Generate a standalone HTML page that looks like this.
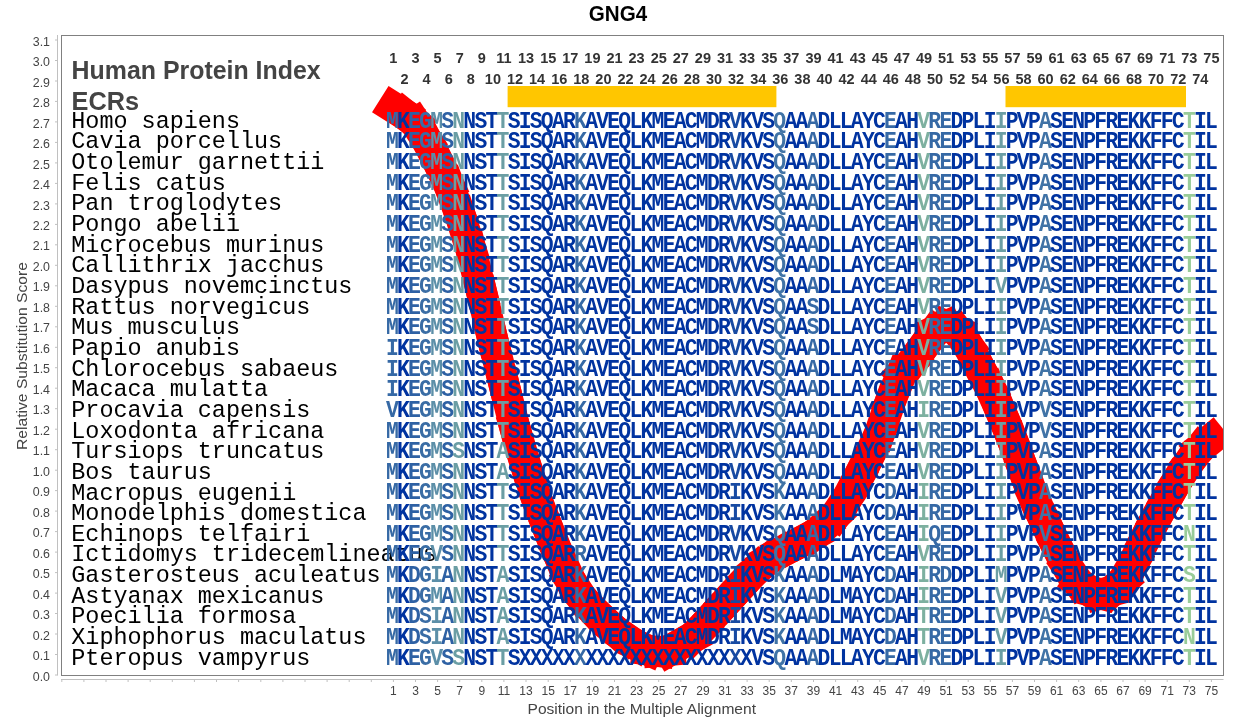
<!DOCTYPE html><html><head><meta charset="utf-8"><style>html,body{margin:0;padding:0;background:#fff;overflow:hidden}svg{display:block;will-change:transform}</style></head><body><svg width="1235" height="725" viewBox="0 0 1235 725"><rect width="1235" height="725" fill="#fff"/><text x="588.8" y="20.8" font-family="Liberation Sans, sans-serif" font-weight="bold" font-size="21.8" textLength="58.4" lengthAdjust="spacingAndGlyphs" fill="#000">GNG4</text><line x1="57.5" y1="35" x2="57.5" y2="675.5" stroke="#c0c0c0" stroke-width="1"/><line x1="55" y1="675.0" x2="57.5" y2="675.0" stroke="#c0c0c0" stroke-width="1"/><line x1="55" y1="654.5" x2="57.5" y2="654.5" stroke="#c0c0c0" stroke-width="1"/><line x1="55" y1="634.0" x2="57.5" y2="634.0" stroke="#c0c0c0" stroke-width="1"/><line x1="55" y1="613.5" x2="57.5" y2="613.5" stroke="#c0c0c0" stroke-width="1"/><line x1="55" y1="593.1" x2="57.5" y2="593.1" stroke="#c0c0c0" stroke-width="1"/><line x1="55" y1="572.6" x2="57.5" y2="572.6" stroke="#c0c0c0" stroke-width="1"/><line x1="55" y1="552.1" x2="57.5" y2="552.1" stroke="#c0c0c0" stroke-width="1"/><line x1="55" y1="531.6" x2="57.5" y2="531.6" stroke="#c0c0c0" stroke-width="1"/><line x1="55" y1="511.1" x2="57.5" y2="511.1" stroke="#c0c0c0" stroke-width="1"/><line x1="55" y1="490.6" x2="57.5" y2="490.6" stroke="#c0c0c0" stroke-width="1"/><line x1="55" y1="470.2" x2="57.5" y2="470.2" stroke="#c0c0c0" stroke-width="1"/><line x1="55" y1="449.7" x2="57.5" y2="449.7" stroke="#c0c0c0" stroke-width="1"/><line x1="55" y1="429.2" x2="57.5" y2="429.2" stroke="#c0c0c0" stroke-width="1"/><line x1="55" y1="408.7" x2="57.5" y2="408.7" stroke="#c0c0c0" stroke-width="1"/><line x1="55" y1="388.2" x2="57.5" y2="388.2" stroke="#c0c0c0" stroke-width="1"/><line x1="55" y1="367.7" x2="57.5" y2="367.7" stroke="#c0c0c0" stroke-width="1"/><line x1="55" y1="347.3" x2="57.5" y2="347.3" stroke="#c0c0c0" stroke-width="1"/><line x1="55" y1="326.8" x2="57.5" y2="326.8" stroke="#c0c0c0" stroke-width="1"/><line x1="55" y1="306.3" x2="57.5" y2="306.3" stroke="#c0c0c0" stroke-width="1"/><line x1="55" y1="285.8" x2="57.5" y2="285.8" stroke="#c0c0c0" stroke-width="1"/><line x1="55" y1="265.3" x2="57.5" y2="265.3" stroke="#c0c0c0" stroke-width="1"/><line x1="55" y1="244.8" x2="57.5" y2="244.8" stroke="#c0c0c0" stroke-width="1"/><line x1="55" y1="224.4" x2="57.5" y2="224.4" stroke="#c0c0c0" stroke-width="1"/><line x1="55" y1="203.9" x2="57.5" y2="203.9" stroke="#c0c0c0" stroke-width="1"/><line x1="55" y1="183.4" x2="57.5" y2="183.4" stroke="#c0c0c0" stroke-width="1"/><line x1="55" y1="162.9" x2="57.5" y2="162.9" stroke="#c0c0c0" stroke-width="1"/><line x1="55" y1="142.4" x2="57.5" y2="142.4" stroke="#c0c0c0" stroke-width="1"/><line x1="55" y1="121.9" x2="57.5" y2="121.9" stroke="#c0c0c0" stroke-width="1"/><line x1="55" y1="101.4" x2="57.5" y2="101.4" stroke="#c0c0c0" stroke-width="1"/><line x1="55" y1="81.0" x2="57.5" y2="81.0" stroke="#c0c0c0" stroke-width="1"/><line x1="55" y1="60.5" x2="57.5" y2="60.5" stroke="#c0c0c0" stroke-width="1"/><line x1="55" y1="40.0" x2="57.5" y2="40.0" stroke="#c0c0c0" stroke-width="1"/><g font-family="Liberation Sans, sans-serif" font-size="12.4" fill="#444" text-anchor="end"><text x="50" y="680.6">0.0</text><text x="50" y="660.1">0.1</text><text x="50" y="639.6">0.2</text><text x="50" y="619.1">0.3</text><text x="50" y="598.7">0.4</text><text x="50" y="578.2">0.5</text><text x="50" y="557.7">0.6</text><text x="50" y="537.2">0.7</text><text x="50" y="516.7">0.8</text><text x="50" y="496.2">0.9</text><text x="50" y="475.8">1.0</text><text x="50" y="455.3">1.1</text><text x="50" y="434.8">1.2</text><text x="50" y="414.3">1.3</text><text x="50" y="393.8">1.4</text><text x="50" y="373.3">1.5</text><text x="50" y="352.9">1.6</text><text x="50" y="332.4">1.7</text><text x="50" y="311.9">1.8</text><text x="50" y="291.4">1.9</text><text x="50" y="270.9">2.0</text><text x="50" y="250.4">2.1</text><text x="50" y="230.0">2.2</text><text x="50" y="209.5">2.3</text><text x="50" y="189.0">2.4</text><text x="50" y="168.5">2.5</text><text x="50" y="148.0">2.6</text><text x="50" y="127.5">2.7</text><text x="50" y="107.0">2.8</text><text x="50" y="86.6">2.9</text><text x="50" y="66.1">3.0</text><text x="50" y="45.6">3.1</text></g><text transform="translate(26.7,450) rotate(-90)" font-family="Liberation Sans, sans-serif" font-size="15.5" textLength="188" lengthAdjust="spacingAndGlyphs" fill="#444">Relative Substitution Score</text><line x1="61" y1="679.5" x2="1223.5" y2="679.5" stroke="#c0c0c0" stroke-width="1"/><line x1="61.8" y1="679.5" x2="61.8" y2="682" stroke="#c0c0c0" stroke-width="1"/><line x1="83.9" y1="679.5" x2="83.9" y2="682" stroke="#c0c0c0" stroke-width="1"/><line x1="106.0" y1="679.5" x2="106.0" y2="682" stroke="#c0c0c0" stroke-width="1"/><line x1="128.1" y1="679.5" x2="128.1" y2="682" stroke="#c0c0c0" stroke-width="1"/><line x1="150.2" y1="679.5" x2="150.2" y2="682" stroke="#c0c0c0" stroke-width="1"/><line x1="172.3" y1="679.5" x2="172.3" y2="682" stroke="#c0c0c0" stroke-width="1"/><line x1="194.4" y1="679.5" x2="194.4" y2="682" stroke="#c0c0c0" stroke-width="1"/><line x1="216.5" y1="679.5" x2="216.5" y2="682" stroke="#c0c0c0" stroke-width="1"/><line x1="238.6" y1="679.5" x2="238.6" y2="682" stroke="#c0c0c0" stroke-width="1"/><line x1="260.8" y1="679.5" x2="260.8" y2="682" stroke="#c0c0c0" stroke-width="1"/><line x1="282.9" y1="679.5" x2="282.9" y2="682" stroke="#c0c0c0" stroke-width="1"/><line x1="305.0" y1="679.5" x2="305.0" y2="682" stroke="#c0c0c0" stroke-width="1"/><line x1="327.1" y1="679.5" x2="327.1" y2="682" stroke="#c0c0c0" stroke-width="1"/><line x1="349.2" y1="679.5" x2="349.2" y2="682" stroke="#c0c0c0" stroke-width="1"/><line x1="371.3" y1="679.5" x2="371.3" y2="682" stroke="#c0c0c0" stroke-width="1"/><line x1="393.4" y1="679.5" x2="393.4" y2="682" stroke="#c0c0c0" stroke-width="1"/><line x1="415.5" y1="679.5" x2="415.5" y2="682" stroke="#c0c0c0" stroke-width="1"/><line x1="437.6" y1="679.5" x2="437.6" y2="682" stroke="#c0c0c0" stroke-width="1"/><line x1="459.7" y1="679.5" x2="459.7" y2="682" stroke="#c0c0c0" stroke-width="1"/><line x1="481.8" y1="679.5" x2="481.8" y2="682" stroke="#c0c0c0" stroke-width="1"/><line x1="503.9" y1="679.5" x2="503.9" y2="682" stroke="#c0c0c0" stroke-width="1"/><line x1="526.0" y1="679.5" x2="526.0" y2="682" stroke="#c0c0c0" stroke-width="1"/><line x1="548.2" y1="679.5" x2="548.2" y2="682" stroke="#c0c0c0" stroke-width="1"/><line x1="570.3" y1="679.5" x2="570.3" y2="682" stroke="#c0c0c0" stroke-width="1"/><line x1="592.4" y1="679.5" x2="592.4" y2="682" stroke="#c0c0c0" stroke-width="1"/><line x1="614.5" y1="679.5" x2="614.5" y2="682" stroke="#c0c0c0" stroke-width="1"/><line x1="636.6" y1="679.5" x2="636.6" y2="682" stroke="#c0c0c0" stroke-width="1"/><line x1="658.7" y1="679.5" x2="658.7" y2="682" stroke="#c0c0c0" stroke-width="1"/><line x1="680.8" y1="679.5" x2="680.8" y2="682" stroke="#c0c0c0" stroke-width="1"/><line x1="702.9" y1="679.5" x2="702.9" y2="682" stroke="#c0c0c0" stroke-width="1"/><line x1="725.0" y1="679.5" x2="725.0" y2="682" stroke="#c0c0c0" stroke-width="1"/><line x1="747.1" y1="679.5" x2="747.1" y2="682" stroke="#c0c0c0" stroke-width="1"/><line x1="769.2" y1="679.5" x2="769.2" y2="682" stroke="#c0c0c0" stroke-width="1"/><line x1="791.3" y1="679.5" x2="791.3" y2="682" stroke="#c0c0c0" stroke-width="1"/><line x1="813.5" y1="679.5" x2="813.5" y2="682" stroke="#c0c0c0" stroke-width="1"/><line x1="835.6" y1="679.5" x2="835.6" y2="682" stroke="#c0c0c0" stroke-width="1"/><line x1="857.7" y1="679.5" x2="857.7" y2="682" stroke="#c0c0c0" stroke-width="1"/><line x1="879.8" y1="679.5" x2="879.8" y2="682" stroke="#c0c0c0" stroke-width="1"/><line x1="901.9" y1="679.5" x2="901.9" y2="682" stroke="#c0c0c0" stroke-width="1"/><line x1="924.0" y1="679.5" x2="924.0" y2="682" stroke="#c0c0c0" stroke-width="1"/><line x1="946.1" y1="679.5" x2="946.1" y2="682" stroke="#c0c0c0" stroke-width="1"/><line x1="968.2" y1="679.5" x2="968.2" y2="682" stroke="#c0c0c0" stroke-width="1"/><line x1="990.3" y1="679.5" x2="990.3" y2="682" stroke="#c0c0c0" stroke-width="1"/><line x1="1012.4" y1="679.5" x2="1012.4" y2="682" stroke="#c0c0c0" stroke-width="1"/><line x1="1034.5" y1="679.5" x2="1034.5" y2="682" stroke="#c0c0c0" stroke-width="1"/><line x1="1056.6" y1="679.5" x2="1056.6" y2="682" stroke="#c0c0c0" stroke-width="1"/><line x1="1078.7" y1="679.5" x2="1078.7" y2="682" stroke="#c0c0c0" stroke-width="1"/><line x1="1100.9" y1="679.5" x2="1100.9" y2="682" stroke="#c0c0c0" stroke-width="1"/><line x1="1123.0" y1="679.5" x2="1123.0" y2="682" stroke="#c0c0c0" stroke-width="1"/><line x1="1145.1" y1="679.5" x2="1145.1" y2="682" stroke="#c0c0c0" stroke-width="1"/><line x1="1167.2" y1="679.5" x2="1167.2" y2="682" stroke="#c0c0c0" stroke-width="1"/><line x1="1189.3" y1="679.5" x2="1189.3" y2="682" stroke="#c0c0c0" stroke-width="1"/><line x1="1211.4" y1="679.5" x2="1211.4" y2="682" stroke="#c0c0c0" stroke-width="1"/><g font-family="Liberation Sans, sans-serif" font-size="12" fill="#444" text-anchor="middle"><text x="393.4" y="694.7">1</text><text x="415.5" y="694.7">3</text><text x="437.6" y="694.7">5</text><text x="459.7" y="694.7">7</text><text x="481.8" y="694.7">9</text><text x="503.9" y="694.7">11</text><text x="526.0" y="694.7">13</text><text x="548.2" y="694.7">15</text><text x="570.3" y="694.7">17</text><text x="592.4" y="694.7">19</text><text x="614.5" y="694.7">21</text><text x="636.6" y="694.7">23</text><text x="658.7" y="694.7">25</text><text x="680.8" y="694.7">27</text><text x="702.9" y="694.7">29</text><text x="725.0" y="694.7">31</text><text x="747.1" y="694.7">33</text><text x="769.2" y="694.7">35</text><text x="791.3" y="694.7">37</text><text x="813.5" y="694.7">39</text><text x="835.6" y="694.7">41</text><text x="857.7" y="694.7">43</text><text x="879.8" y="694.7">45</text><text x="901.9" y="694.7">47</text><text x="924.0" y="694.7">49</text><text x="946.1" y="694.7">51</text><text x="968.2" y="694.7">53</text><text x="990.3" y="694.7">55</text><text x="1012.4" y="694.7">57</text><text x="1034.5" y="694.7">59</text><text x="1056.6" y="694.7">61</text><text x="1078.7" y="694.7">63</text><text x="1100.9" y="694.7">65</text><text x="1123.0" y="694.7">67</text><text x="1145.1" y="694.7">69</text><text x="1167.2" y="694.7">71</text><text x="1189.3" y="694.7">73</text><text x="1211.4" y="694.7">75</text></g><text x="527.5" y="714" font-family="Liberation Sans, sans-serif" font-size="15.2" textLength="228.5" lengthAdjust="spacingAndGlyphs" fill="#444">Position in the Multiple Alignment</text><rect x="61.5" y="35.5" width="1162" height="640" fill="none" stroke="#808080" stroke-width="1"/><text x="71.6" y="78.8" font-family="Liberation Sans, sans-serif" font-weight="bold" font-size="25.3" textLength="249" lengthAdjust="spacingAndGlyphs" fill="#444">Human Protein Index</text><text x="71.6" y="109.7" font-family="Liberation Sans, sans-serif" font-weight="bold" font-size="25.3" textLength="67.5" lengthAdjust="spacingAndGlyphs" fill="#444">ECRs</text><g font-family="Liberation Sans, sans-serif" font-weight="bold" font-size="14.5" fill="#333" text-anchor="middle"><text x="393.4" y="62.6">1</text><text x="404.5" y="83.9">2</text><text x="415.5" y="62.6">3</text><text x="426.6" y="83.9">4</text><text x="437.6" y="62.6">5</text><text x="448.7" y="83.9">6</text><text x="459.7" y="62.6">7</text><text x="470.8" y="83.9">8</text><text x="481.8" y="62.6">9</text><text x="492.9" y="83.9">10</text><text x="503.9" y="62.6">11</text><text x="515.0" y="83.9">12</text><text x="526.0" y="62.6">13</text><text x="537.1" y="83.9">14</text><text x="548.2" y="62.6">15</text><text x="559.2" y="83.9">16</text><text x="570.3" y="62.6">17</text><text x="581.3" y="83.9">18</text><text x="592.4" y="62.6">19</text><text x="603.4" y="83.9">20</text><text x="614.5" y="62.6">21</text><text x="625.5" y="83.9">22</text><text x="636.6" y="62.6">23</text><text x="647.6" y="83.9">24</text><text x="658.7" y="62.6">25</text><text x="669.8" y="83.9">26</text><text x="680.8" y="62.6">27</text><text x="691.9" y="83.9">28</text><text x="702.9" y="62.6">29</text><text x="714.0" y="83.9">30</text><text x="725.0" y="62.6">31</text><text x="736.1" y="83.9">32</text><text x="747.1" y="62.6">33</text><text x="758.2" y="83.9">34</text><text x="769.2" y="62.6">35</text><text x="780.3" y="83.9">36</text><text x="791.3" y="62.6">37</text><text x="802.4" y="83.9">38</text><text x="813.5" y="62.6">39</text><text x="824.5" y="83.9">40</text><text x="835.6" y="62.6">41</text><text x="846.6" y="83.9">42</text><text x="857.7" y="62.6">43</text><text x="868.7" y="83.9">44</text><text x="879.8" y="62.6">45</text><text x="890.8" y="83.9">46</text><text x="901.9" y="62.6">47</text><text x="912.9" y="83.9">48</text><text x="924.0" y="62.6">49</text><text x="935.0" y="83.9">50</text><text x="946.1" y="62.6">51</text><text x="957.2" y="83.9">52</text><text x="968.2" y="62.6">53</text><text x="979.3" y="83.9">54</text><text x="990.3" y="62.6">55</text><text x="1001.4" y="83.9">56</text><text x="1012.4" y="62.6">57</text><text x="1023.5" y="83.9">58</text><text x="1034.5" y="62.6">59</text><text x="1045.6" y="83.9">60</text><text x="1056.6" y="62.6">61</text><text x="1067.7" y="83.9">62</text><text x="1078.7" y="62.6">63</text><text x="1089.8" y="83.9">64</text><text x="1100.9" y="62.6">65</text><text x="1111.9" y="83.9">66</text><text x="1123.0" y="62.6">67</text><text x="1134.0" y="83.9">68</text><text x="1145.1" y="62.6">69</text><text x="1156.1" y="83.9">70</text><text x="1167.2" y="62.6">71</text><text x="1178.2" y="83.9">72</text><text x="1189.3" y="62.6">73</text><text x="1200.3" y="83.9">74</text><text x="1211.4" y="62.6">75</text></g><rect x="507.6" y="86" width="268.8" height="21.2" fill="#ffc600"/><rect x="1005.5" y="86" width="180.5" height="21.2" fill="#ffc600"/><defs><clipPath id="pc"><rect x="62" y="36" width="1161" height="639"/></clipPath></defs><g clip-path="url(#pc)" stroke="#ff0000" stroke-width="31" stroke-linecap="square"><line x1="393.4" y1="107.3" x2="404.5" y2="114.3"/><line x1="404.5" y1="114.3" x2="415.5" y2="123.0"/><line x1="415.5" y1="123.0" x2="426.6" y2="140.0"/><line x1="426.6" y1="140.0" x2="437.6" y2="161.0"/><line x1="437.6" y1="161.0" x2="448.7" y2="184.4"/><line x1="448.7" y1="184.4" x2="459.7" y2="213.9"/><line x1="459.7" y1="213.9" x2="470.8" y2="249.0"/><line x1="470.8" y1="249.0" x2="481.8" y2="293.0"/><line x1="481.8" y1="293.0" x2="492.9" y2="340.0"/><line x1="492.9" y1="340.0" x2="503.9" y2="384.0"/><line x1="503.9" y1="384.0" x2="515.0" y2="428.0"/><line x1="515.0" y1="428.0" x2="526.0" y2="466.0"/><line x1="526.0" y1="466.0" x2="537.1" y2="500.0"/><line x1="537.1" y1="500.0" x2="548.2" y2="529.0"/><line x1="548.2" y1="529.0" x2="559.2" y2="556.0"/><line x1="559.2" y1="556.0" x2="570.3" y2="580.0"/><line x1="570.3" y1="580.0" x2="581.3" y2="597.0"/><line x1="581.3" y1="597.0" x2="592.4" y2="609.5"/><line x1="592.4" y1="609.5" x2="603.4" y2="620.0"/><line x1="603.4" y1="620.0" x2="614.5" y2="630.0"/><line x1="614.5" y1="630.0" x2="625.5" y2="638.0"/><line x1="625.5" y1="638.0" x2="636.6" y2="645.0"/><line x1="636.6" y1="645.0" x2="647.6" y2="650.0"/><line x1="647.6" y1="650.0" x2="658.7" y2="651.5"/><line x1="658.7" y1="651.5" x2="669.8" y2="650.5"/><line x1="669.8" y1="650.5" x2="680.8" y2="644.0"/><line x1="680.8" y1="644.0" x2="691.9" y2="638.0"/><line x1="691.9" y1="638.0" x2="702.9" y2="627.0"/><line x1="702.9" y1="627.0" x2="714.0" y2="615.0"/><line x1="714.0" y1="615.0" x2="725.0" y2="603.0"/><line x1="725.0" y1="603.0" x2="736.1" y2="591.0"/><line x1="736.1" y1="591.0" x2="747.1" y2="579.0"/><line x1="747.1" y1="579.0" x2="758.2" y2="568.0"/><line x1="758.2" y1="568.0" x2="769.2" y2="559.0"/><line x1="769.2" y1="559.0" x2="780.3" y2="552.5"/><line x1="780.3" y1="552.5" x2="791.3" y2="547.0"/><line x1="791.3" y1="547.0" x2="802.4" y2="541.0"/><line x1="802.4" y1="541.0" x2="813.5" y2="535.0"/><line x1="813.5" y1="535.0" x2="824.5" y2="526.0"/><line x1="824.5" y1="526.0" x2="835.6" y2="515.3"/><line x1="835.6" y1="515.3" x2="846.6" y2="499.1"/><line x1="846.6" y1="499.1" x2="857.7" y2="478.6"/><line x1="857.7" y1="478.6" x2="868.7" y2="456.9"/><line x1="868.7" y1="456.9" x2="879.8" y2="432.8"/><line x1="879.8" y1="432.8" x2="890.8" y2="400.4"/><line x1="890.8" y1="400.4" x2="901.9" y2="373.0"/><line x1="901.9" y1="373.0" x2="912.9" y2="361.0"/><line x1="912.9" y1="361.0" x2="924.0" y2="346.0"/><line x1="924.0" y1="346.0" x2="935.0" y2="331.0"/><line x1="935.0" y1="331.0" x2="946.1" y2="326.0"/><line x1="946.1" y1="326.0" x2="957.2" y2="331.0"/><line x1="957.2" y1="331.0" x2="968.2" y2="346.0"/><line x1="968.2" y1="346.0" x2="979.3" y2="367.0"/><line x1="979.3" y1="367.0" x2="990.3" y2="388.0"/><line x1="990.3" y1="388.0" x2="1001.4" y2="413.0"/><line x1="1001.4" y1="413.0" x2="1012.4" y2="440.0"/><line x1="1012.4" y1="440.0" x2="1023.5" y2="470.0"/><line x1="1023.5" y1="470.0" x2="1034.5" y2="499.0"/><line x1="1034.5" y1="499.0" x2="1045.6" y2="523.0"/><line x1="1045.6" y1="523.0" x2="1056.6" y2="546.0"/><line x1="1056.6" y1="546.0" x2="1067.7" y2="567.0"/><line x1="1067.7" y1="567.0" x2="1078.7" y2="583.0"/><line x1="1078.7" y1="583.0" x2="1089.8" y2="591.0"/><line x1="1089.8" y1="591.0" x2="1100.9" y2="594.0"/><line x1="1100.9" y1="594.0" x2="1111.9" y2="591.0"/><line x1="1111.9" y1="591.0" x2="1123.0" y2="581.0"/><line x1="1123.0" y1="581.0" x2="1134.0" y2="562.0"/><line x1="1134.0" y1="562.0" x2="1145.1" y2="539.0"/><line x1="1145.1" y1="539.0" x2="1156.1" y2="518.0"/><line x1="1156.1" y1="518.0" x2="1167.2" y2="498.0"/><line x1="1167.2" y1="498.0" x2="1178.2" y2="479.0"/><line x1="1178.2" y1="479.0" x2="1189.3" y2="462.0"/><line x1="1189.3" y1="462.0" x2="1200.3" y2="448.0"/><line x1="1200.3" y1="448.0" x2="1211.4" y2="439.0"/></g><g font-family="Liberation Mono, monospace" font-size="23.43" fill="#000" xml:space="preserve"><text x="71.3" y="127.80">Homo sapiens</text><text x="71.3" y="148.45">Cavia porcellus</text><text x="71.3" y="169.10">Otolemur garnettii</text><text x="71.3" y="189.75">Felis catus</text><text x="71.3" y="210.40">Pan troglodytes</text><text x="71.3" y="231.05">Pongo abelii</text><text x="71.3" y="251.70">Microcebus murinus</text><text x="71.3" y="272.35">Callithrix jacchus</text><text x="71.3" y="293.00">Dasypus novemcinctus</text><text x="71.3" y="313.65">Rattus norvegicus</text><text x="71.3" y="334.30">Mus musculus</text><text x="71.3" y="354.95">Papio anubis</text><text x="71.3" y="375.60">Chlorocebus sabaeus</text><text x="71.3" y="396.25">Macaca mulatta</text><text x="71.3" y="416.90">Procavia capensis</text><text x="71.3" y="437.55">Loxodonta africana</text><text x="71.3" y="458.20">Tursiops truncatus</text><text x="71.3" y="478.85">Bos taurus</text><text x="71.3" y="499.50">Macropus eugenii</text><text x="71.3" y="520.15">Monodelphis domestica</text><text x="71.3" y="540.80">Echinops telfairi</text><text x="71.3" y="561.45">Ictidomys tridecemlineatus</text><text x="71.3" y="582.10">Gasterosteus aculeatus</text><text x="71.3" y="602.75">Astyanax mexicanus</text><text x="71.3" y="623.40">Poecilia formosa</text><text x="71.3" y="644.05">Xiphophorus maculatus</text><text x="71.3" y="664.70">Pteropus vampyrus</text></g><g transform="scale(0.88,1)" font-family="Liberation Mono, monospace" font-weight="bold" font-size="24.3" text-anchor="middle"><text y="127.80"><tspan x="445.80" fill="#3669a5">M</tspan><tspan x="458.38" fill="#0033a0">K</tspan><tspan x="470.95" fill="#2e61a4">E</tspan><tspan x="483.53" fill="#3a6da5">G</tspan><tspan x="496.11" fill="#5c8fa8">M</tspan><tspan x="508.69" fill="#2e61a4">S</tspan><tspan x="521.27" fill="#6b9ea4">N</tspan><tspan x="533.85" fill="#0033a0">N</tspan><tspan x="546.43" fill="#0033a0">S</tspan><tspan x="559.01" fill="#0033a0">T</tspan><tspan x="571.59" fill="#6b9ea4">T</tspan><tspan x="584.17" fill="#0033a0">S</tspan><tspan x="596.75" fill="#0033a0">I</tspan><tspan x="609.33" fill="#0033a0">S</tspan><tspan x="621.91" fill="#0033a0">Q</tspan><tspan x="634.49" fill="#0033a0">A</tspan><tspan x="647.07" fill="#0033a0">R</tspan><tspan x="659.65" fill="#3669a5">K</tspan><tspan x="672.23" fill="#0033a0">A</tspan><tspan x="684.81" fill="#0033a0">V</tspan><tspan x="697.39" fill="#0033a0">E</tspan><tspan x="709.97" fill="#0033a0">Q</tspan><tspan x="722.55" fill="#0033a0">L</tspan><tspan x="735.13" fill="#0033a0">K</tspan><tspan x="747.70" fill="#0033a0">M</tspan><tspan x="760.28" fill="#0033a0">E</tspan><tspan x="772.86" fill="#0033a0">A</tspan><tspan x="785.44" fill="#0033a0">C</tspan><tspan x="798.02" fill="#0033a0">M</tspan><tspan x="810.60" fill="#0033a0">D</tspan><tspan x="823.18" fill="#0033a0">R</tspan><tspan x="835.76" fill="#174aa2">V</tspan><tspan x="848.34" fill="#0033a0">K</tspan><tspan x="860.92" fill="#0033a0">V</tspan><tspan x="873.50" fill="#0033a0">S</tspan><tspan x="886.08" fill="#4073a6">Q</tspan><tspan x="898.66" fill="#0033a0">A</tspan><tspan x="911.24" fill="#0033a0">A</tspan><tspan x="923.82" fill="#3669a5">A</tspan><tspan x="936.40" fill="#0033a0">D</tspan><tspan x="948.98" fill="#0033a0">L</tspan><tspan x="961.56" fill="#0033a0">L</tspan><tspan x="974.14" fill="#0033a0">A</tspan><tspan x="986.72" fill="#0033a0">Y</tspan><tspan x="999.30" fill="#0033a0">C</tspan><tspan x="1011.88" fill="#3669a5">E</tspan><tspan x="1024.45" fill="#0033a0">A</tspan><tspan x="1037.03" fill="#0033a0">H</tspan><tspan x="1049.61" fill="#7db0a0">V</tspan><tspan x="1062.19" fill="#3669a5">R</tspan><tspan x="1074.77" fill="#3669a5">E</tspan><tspan x="1087.35" fill="#0033a0">D</tspan><tspan x="1099.93" fill="#0033a0">P</tspan><tspan x="1112.51" fill="#0033a0">L</tspan><tspan x="1125.09" fill="#0033a0">I</tspan><tspan x="1137.67" fill="#6b9ea4">I</tspan><tspan x="1150.25" fill="#0033a0">P</tspan><tspan x="1162.83" fill="#0033a0">V</tspan><tspan x="1175.41" fill="#0033a0">P</tspan><tspan x="1187.99" fill="#4073a6">A</tspan><tspan x="1200.57" fill="#0033a0">S</tspan><tspan x="1213.15" fill="#0033a0">E</tspan><tspan x="1225.73" fill="#0033a0">N</tspan><tspan x="1238.31" fill="#0033a0">P</tspan><tspan x="1250.89" fill="#0033a0">F</tspan><tspan x="1263.47" fill="#0033a0">R</tspan><tspan x="1276.05" fill="#0033a0">E</tspan><tspan x="1288.62" fill="#0033a0">K</tspan><tspan x="1301.20" fill="#0033a0">K</tspan><tspan x="1313.78" fill="#0033a0">F</tspan><tspan x="1326.36" fill="#0033a0">F</tspan><tspan x="1338.94" fill="#0033a0">C</tspan><tspan x="1351.52" fill="#99cc99">T</tspan><tspan x="1364.10" fill="#0033a0">I</tspan><tspan x="1376.68" fill="#0033a0">L</tspan></text><text y="148.45"><tspan x="445.80" fill="#3669a5">M</tspan><tspan x="458.38" fill="#0033a0">K</tspan><tspan x="470.95" fill="#2e61a4">E</tspan><tspan x="483.53" fill="#3a6da5">G</tspan><tspan x="496.11" fill="#5c8fa8">M</tspan><tspan x="508.69" fill="#2e61a4">S</tspan><tspan x="521.27" fill="#6b9ea4">N</tspan><tspan x="533.85" fill="#0033a0">N</tspan><tspan x="546.43" fill="#0033a0">S</tspan><tspan x="559.01" fill="#0033a0">T</tspan><tspan x="571.59" fill="#6b9ea4">T</tspan><tspan x="584.17" fill="#0033a0">S</tspan><tspan x="596.75" fill="#0033a0">I</tspan><tspan x="609.33" fill="#0033a0">S</tspan><tspan x="621.91" fill="#0033a0">Q</tspan><tspan x="634.49" fill="#0033a0">A</tspan><tspan x="647.07" fill="#0033a0">R</tspan><tspan x="659.65" fill="#3669a5">K</tspan><tspan x="672.23" fill="#0033a0">A</tspan><tspan x="684.81" fill="#0033a0">V</tspan><tspan x="697.39" fill="#0033a0">E</tspan><tspan x="709.97" fill="#0033a0">Q</tspan><tspan x="722.55" fill="#0033a0">L</tspan><tspan x="735.13" fill="#0033a0">K</tspan><tspan x="747.70" fill="#0033a0">M</tspan><tspan x="760.28" fill="#0033a0">E</tspan><tspan x="772.86" fill="#0033a0">A</tspan><tspan x="785.44" fill="#0033a0">C</tspan><tspan x="798.02" fill="#0033a0">M</tspan><tspan x="810.60" fill="#0033a0">D</tspan><tspan x="823.18" fill="#0033a0">R</tspan><tspan x="835.76" fill="#174aa2">V</tspan><tspan x="848.34" fill="#0033a0">K</tspan><tspan x="860.92" fill="#0033a0">V</tspan><tspan x="873.50" fill="#0033a0">S</tspan><tspan x="886.08" fill="#4073a6">Q</tspan><tspan x="898.66" fill="#0033a0">A</tspan><tspan x="911.24" fill="#0033a0">A</tspan><tspan x="923.82" fill="#3669a5">A</tspan><tspan x="936.40" fill="#0033a0">D</tspan><tspan x="948.98" fill="#0033a0">L</tspan><tspan x="961.56" fill="#0033a0">L</tspan><tspan x="974.14" fill="#0033a0">A</tspan><tspan x="986.72" fill="#0033a0">Y</tspan><tspan x="999.30" fill="#0033a0">C</tspan><tspan x="1011.88" fill="#3669a5">E</tspan><tspan x="1024.45" fill="#0033a0">A</tspan><tspan x="1037.03" fill="#0033a0">H</tspan><tspan x="1049.61" fill="#7db0a0">V</tspan><tspan x="1062.19" fill="#3669a5">R</tspan><tspan x="1074.77" fill="#3669a5">E</tspan><tspan x="1087.35" fill="#0033a0">D</tspan><tspan x="1099.93" fill="#0033a0">P</tspan><tspan x="1112.51" fill="#0033a0">L</tspan><tspan x="1125.09" fill="#0033a0">I</tspan><tspan x="1137.67" fill="#6b9ea4">I</tspan><tspan x="1150.25" fill="#0033a0">P</tspan><tspan x="1162.83" fill="#0033a0">V</tspan><tspan x="1175.41" fill="#0033a0">P</tspan><tspan x="1187.99" fill="#4073a6">A</tspan><tspan x="1200.57" fill="#0033a0">S</tspan><tspan x="1213.15" fill="#0033a0">E</tspan><tspan x="1225.73" fill="#0033a0">N</tspan><tspan x="1238.31" fill="#0033a0">P</tspan><tspan x="1250.89" fill="#0033a0">F</tspan><tspan x="1263.47" fill="#0033a0">R</tspan><tspan x="1276.05" fill="#0033a0">E</tspan><tspan x="1288.62" fill="#0033a0">K</tspan><tspan x="1301.20" fill="#0033a0">K</tspan><tspan x="1313.78" fill="#0033a0">F</tspan><tspan x="1326.36" fill="#0033a0">F</tspan><tspan x="1338.94" fill="#0033a0">C</tspan><tspan x="1351.52" fill="#99cc99">T</tspan><tspan x="1364.10" fill="#0033a0">I</tspan><tspan x="1376.68" fill="#0033a0">L</tspan></text><text y="169.10"><tspan x="445.80" fill="#3669a5">M</tspan><tspan x="458.38" fill="#0033a0">K</tspan><tspan x="470.95" fill="#2e61a4">E</tspan><tspan x="483.53" fill="#3a6da5">G</tspan><tspan x="496.11" fill="#5c8fa8">M</tspan><tspan x="508.69" fill="#2e61a4">S</tspan><tspan x="521.27" fill="#6b9ea4">N</tspan><tspan x="533.85" fill="#0033a0">N</tspan><tspan x="546.43" fill="#0033a0">S</tspan><tspan x="559.01" fill="#0033a0">T</tspan><tspan x="571.59" fill="#6b9ea4">T</tspan><tspan x="584.17" fill="#0033a0">S</tspan><tspan x="596.75" fill="#0033a0">I</tspan><tspan x="609.33" fill="#0033a0">S</tspan><tspan x="621.91" fill="#0033a0">Q</tspan><tspan x="634.49" fill="#0033a0">A</tspan><tspan x="647.07" fill="#0033a0">R</tspan><tspan x="659.65" fill="#3669a5">K</tspan><tspan x="672.23" fill="#0033a0">A</tspan><tspan x="684.81" fill="#0033a0">V</tspan><tspan x="697.39" fill="#0033a0">E</tspan><tspan x="709.97" fill="#0033a0">Q</tspan><tspan x="722.55" fill="#0033a0">L</tspan><tspan x="735.13" fill="#0033a0">K</tspan><tspan x="747.70" fill="#0033a0">M</tspan><tspan x="760.28" fill="#0033a0">E</tspan><tspan x="772.86" fill="#0033a0">A</tspan><tspan x="785.44" fill="#0033a0">C</tspan><tspan x="798.02" fill="#0033a0">M</tspan><tspan x="810.60" fill="#0033a0">D</tspan><tspan x="823.18" fill="#0033a0">R</tspan><tspan x="835.76" fill="#174aa2">V</tspan><tspan x="848.34" fill="#0033a0">K</tspan><tspan x="860.92" fill="#0033a0">V</tspan><tspan x="873.50" fill="#0033a0">S</tspan><tspan x="886.08" fill="#4073a6">Q</tspan><tspan x="898.66" fill="#0033a0">A</tspan><tspan x="911.24" fill="#0033a0">A</tspan><tspan x="923.82" fill="#3669a5">A</tspan><tspan x="936.40" fill="#0033a0">D</tspan><tspan x="948.98" fill="#0033a0">L</tspan><tspan x="961.56" fill="#0033a0">L</tspan><tspan x="974.14" fill="#0033a0">A</tspan><tspan x="986.72" fill="#0033a0">Y</tspan><tspan x="999.30" fill="#0033a0">C</tspan><tspan x="1011.88" fill="#3669a5">E</tspan><tspan x="1024.45" fill="#0033a0">A</tspan><tspan x="1037.03" fill="#0033a0">H</tspan><tspan x="1049.61" fill="#7db0a0">V</tspan><tspan x="1062.19" fill="#3669a5">R</tspan><tspan x="1074.77" fill="#3669a5">E</tspan><tspan x="1087.35" fill="#0033a0">D</tspan><tspan x="1099.93" fill="#0033a0">P</tspan><tspan x="1112.51" fill="#0033a0">L</tspan><tspan x="1125.09" fill="#0033a0">I</tspan><tspan x="1137.67" fill="#6b9ea4">I</tspan><tspan x="1150.25" fill="#0033a0">P</tspan><tspan x="1162.83" fill="#0033a0">V</tspan><tspan x="1175.41" fill="#0033a0">P</tspan><tspan x="1187.99" fill="#4073a6">A</tspan><tspan x="1200.57" fill="#0033a0">S</tspan><tspan x="1213.15" fill="#0033a0">E</tspan><tspan x="1225.73" fill="#0033a0">N</tspan><tspan x="1238.31" fill="#0033a0">P</tspan><tspan x="1250.89" fill="#0033a0">F</tspan><tspan x="1263.47" fill="#0033a0">R</tspan><tspan x="1276.05" fill="#0033a0">E</tspan><tspan x="1288.62" fill="#0033a0">K</tspan><tspan x="1301.20" fill="#0033a0">K</tspan><tspan x="1313.78" fill="#0033a0">F</tspan><tspan x="1326.36" fill="#0033a0">F</tspan><tspan x="1338.94" fill="#0033a0">C</tspan><tspan x="1351.52" fill="#99cc99">T</tspan><tspan x="1364.10" fill="#0033a0">I</tspan><tspan x="1376.68" fill="#0033a0">L</tspan></text><text y="189.75"><tspan x="445.80" fill="#3669a5">M</tspan><tspan x="458.38" fill="#0033a0">K</tspan><tspan x="470.95" fill="#2e61a4">E</tspan><tspan x="483.53" fill="#3a6da5">G</tspan><tspan x="496.11" fill="#5c8fa8">M</tspan><tspan x="508.69" fill="#2e61a4">S</tspan><tspan x="521.27" fill="#6b9ea4">N</tspan><tspan x="533.85" fill="#0033a0">N</tspan><tspan x="546.43" fill="#0033a0">S</tspan><tspan x="559.01" fill="#0033a0">T</tspan><tspan x="571.59" fill="#6b9ea4">T</tspan><tspan x="584.17" fill="#0033a0">S</tspan><tspan x="596.75" fill="#0033a0">I</tspan><tspan x="609.33" fill="#0033a0">S</tspan><tspan x="621.91" fill="#0033a0">Q</tspan><tspan x="634.49" fill="#0033a0">A</tspan><tspan x="647.07" fill="#0033a0">R</tspan><tspan x="659.65" fill="#3669a5">K</tspan><tspan x="672.23" fill="#0033a0">A</tspan><tspan x="684.81" fill="#0033a0">V</tspan><tspan x="697.39" fill="#0033a0">E</tspan><tspan x="709.97" fill="#0033a0">Q</tspan><tspan x="722.55" fill="#0033a0">L</tspan><tspan x="735.13" fill="#0033a0">K</tspan><tspan x="747.70" fill="#0033a0">M</tspan><tspan x="760.28" fill="#0033a0">E</tspan><tspan x="772.86" fill="#0033a0">A</tspan><tspan x="785.44" fill="#0033a0">C</tspan><tspan x="798.02" fill="#0033a0">M</tspan><tspan x="810.60" fill="#0033a0">D</tspan><tspan x="823.18" fill="#0033a0">R</tspan><tspan x="835.76" fill="#174aa2">V</tspan><tspan x="848.34" fill="#0033a0">K</tspan><tspan x="860.92" fill="#0033a0">V</tspan><tspan x="873.50" fill="#0033a0">S</tspan><tspan x="886.08" fill="#4073a6">Q</tspan><tspan x="898.66" fill="#0033a0">A</tspan><tspan x="911.24" fill="#0033a0">A</tspan><tspan x="923.82" fill="#3669a5">A</tspan><tspan x="936.40" fill="#0033a0">D</tspan><tspan x="948.98" fill="#0033a0">L</tspan><tspan x="961.56" fill="#0033a0">L</tspan><tspan x="974.14" fill="#0033a0">A</tspan><tspan x="986.72" fill="#0033a0">Y</tspan><tspan x="999.30" fill="#0033a0">C</tspan><tspan x="1011.88" fill="#3669a5">E</tspan><tspan x="1024.45" fill="#0033a0">A</tspan><tspan x="1037.03" fill="#0033a0">H</tspan><tspan x="1049.61" fill="#7db0a0">V</tspan><tspan x="1062.19" fill="#3669a5">R</tspan><tspan x="1074.77" fill="#3669a5">E</tspan><tspan x="1087.35" fill="#0033a0">D</tspan><tspan x="1099.93" fill="#0033a0">P</tspan><tspan x="1112.51" fill="#0033a0">L</tspan><tspan x="1125.09" fill="#0033a0">I</tspan><tspan x="1137.67" fill="#6b9ea4">I</tspan><tspan x="1150.25" fill="#0033a0">P</tspan><tspan x="1162.83" fill="#0033a0">V</tspan><tspan x="1175.41" fill="#0033a0">P</tspan><tspan x="1187.99" fill="#4073a6">A</tspan><tspan x="1200.57" fill="#0033a0">S</tspan><tspan x="1213.15" fill="#0033a0">E</tspan><tspan x="1225.73" fill="#0033a0">N</tspan><tspan x="1238.31" fill="#0033a0">P</tspan><tspan x="1250.89" fill="#0033a0">F</tspan><tspan x="1263.47" fill="#0033a0">R</tspan><tspan x="1276.05" fill="#0033a0">E</tspan><tspan x="1288.62" fill="#0033a0">K</tspan><tspan x="1301.20" fill="#0033a0">K</tspan><tspan x="1313.78" fill="#0033a0">F</tspan><tspan x="1326.36" fill="#0033a0">F</tspan><tspan x="1338.94" fill="#0033a0">C</tspan><tspan x="1351.52" fill="#99cc99">T</tspan><tspan x="1364.10" fill="#0033a0">I</tspan><tspan x="1376.68" fill="#0033a0">L</tspan></text><text y="210.40"><tspan x="445.80" fill="#3669a5">M</tspan><tspan x="458.38" fill="#0033a0">K</tspan><tspan x="470.95" fill="#2e61a4">E</tspan><tspan x="483.53" fill="#3a6da5">G</tspan><tspan x="496.11" fill="#5c8fa8">M</tspan><tspan x="508.69" fill="#2e61a4">S</tspan><tspan x="521.27" fill="#6b9ea4">N</tspan><tspan x="533.85" fill="#0033a0">N</tspan><tspan x="546.43" fill="#0033a0">S</tspan><tspan x="559.01" fill="#0033a0">T</tspan><tspan x="571.59" fill="#6b9ea4">T</tspan><tspan x="584.17" fill="#0033a0">S</tspan><tspan x="596.75" fill="#0033a0">I</tspan><tspan x="609.33" fill="#0033a0">S</tspan><tspan x="621.91" fill="#0033a0">Q</tspan><tspan x="634.49" fill="#0033a0">A</tspan><tspan x="647.07" fill="#0033a0">R</tspan><tspan x="659.65" fill="#3669a5">K</tspan><tspan x="672.23" fill="#0033a0">A</tspan><tspan x="684.81" fill="#0033a0">V</tspan><tspan x="697.39" fill="#0033a0">E</tspan><tspan x="709.97" fill="#0033a0">Q</tspan><tspan x="722.55" fill="#0033a0">L</tspan><tspan x="735.13" fill="#0033a0">K</tspan><tspan x="747.70" fill="#0033a0">M</tspan><tspan x="760.28" fill="#0033a0">E</tspan><tspan x="772.86" fill="#0033a0">A</tspan><tspan x="785.44" fill="#0033a0">C</tspan><tspan x="798.02" fill="#0033a0">M</tspan><tspan x="810.60" fill="#0033a0">D</tspan><tspan x="823.18" fill="#0033a0">R</tspan><tspan x="835.76" fill="#174aa2">V</tspan><tspan x="848.34" fill="#0033a0">K</tspan><tspan x="860.92" fill="#0033a0">V</tspan><tspan x="873.50" fill="#0033a0">S</tspan><tspan x="886.08" fill="#4073a6">Q</tspan><tspan x="898.66" fill="#0033a0">A</tspan><tspan x="911.24" fill="#0033a0">A</tspan><tspan x="923.82" fill="#3669a5">A</tspan><tspan x="936.40" fill="#0033a0">D</tspan><tspan x="948.98" fill="#0033a0">L</tspan><tspan x="961.56" fill="#0033a0">L</tspan><tspan x="974.14" fill="#0033a0">A</tspan><tspan x="986.72" fill="#0033a0">Y</tspan><tspan x="999.30" fill="#0033a0">C</tspan><tspan x="1011.88" fill="#3669a5">E</tspan><tspan x="1024.45" fill="#0033a0">A</tspan><tspan x="1037.03" fill="#0033a0">H</tspan><tspan x="1049.61" fill="#7db0a0">V</tspan><tspan x="1062.19" fill="#3669a5">R</tspan><tspan x="1074.77" fill="#3669a5">E</tspan><tspan x="1087.35" fill="#0033a0">D</tspan><tspan x="1099.93" fill="#0033a0">P</tspan><tspan x="1112.51" fill="#0033a0">L</tspan><tspan x="1125.09" fill="#0033a0">I</tspan><tspan x="1137.67" fill="#6b9ea4">I</tspan><tspan x="1150.25" fill="#0033a0">P</tspan><tspan x="1162.83" fill="#0033a0">V</tspan><tspan x="1175.41" fill="#0033a0">P</tspan><tspan x="1187.99" fill="#4073a6">A</tspan><tspan x="1200.57" fill="#0033a0">S</tspan><tspan x="1213.15" fill="#0033a0">E</tspan><tspan x="1225.73" fill="#0033a0">N</tspan><tspan x="1238.31" fill="#0033a0">P</tspan><tspan x="1250.89" fill="#0033a0">F</tspan><tspan x="1263.47" fill="#0033a0">R</tspan><tspan x="1276.05" fill="#0033a0">E</tspan><tspan x="1288.62" fill="#0033a0">K</tspan><tspan x="1301.20" fill="#0033a0">K</tspan><tspan x="1313.78" fill="#0033a0">F</tspan><tspan x="1326.36" fill="#0033a0">F</tspan><tspan x="1338.94" fill="#0033a0">C</tspan><tspan x="1351.52" fill="#99cc99">T</tspan><tspan x="1364.10" fill="#0033a0">I</tspan><tspan x="1376.68" fill="#0033a0">L</tspan></text><text y="231.05"><tspan x="445.80" fill="#3669a5">M</tspan><tspan x="458.38" fill="#0033a0">K</tspan><tspan x="470.95" fill="#2e61a4">E</tspan><tspan x="483.53" fill="#3a6da5">G</tspan><tspan x="496.11" fill="#5c8fa8">M</tspan><tspan x="508.69" fill="#2e61a4">S</tspan><tspan x="521.27" fill="#6b9ea4">N</tspan><tspan x="533.85" fill="#0033a0">N</tspan><tspan x="546.43" fill="#0033a0">S</tspan><tspan x="559.01" fill="#0033a0">T</tspan><tspan x="571.59" fill="#6b9ea4">T</tspan><tspan x="584.17" fill="#0033a0">S</tspan><tspan x="596.75" fill="#0033a0">I</tspan><tspan x="609.33" fill="#0033a0">S</tspan><tspan x="621.91" fill="#0033a0">Q</tspan><tspan x="634.49" fill="#0033a0">A</tspan><tspan x="647.07" fill="#0033a0">R</tspan><tspan x="659.65" fill="#3669a5">K</tspan><tspan x="672.23" fill="#0033a0">A</tspan><tspan x="684.81" fill="#0033a0">V</tspan><tspan x="697.39" fill="#0033a0">E</tspan><tspan x="709.97" fill="#0033a0">Q</tspan><tspan x="722.55" fill="#0033a0">L</tspan><tspan x="735.13" fill="#0033a0">K</tspan><tspan x="747.70" fill="#0033a0">M</tspan><tspan x="760.28" fill="#0033a0">E</tspan><tspan x="772.86" fill="#0033a0">A</tspan><tspan x="785.44" fill="#0033a0">C</tspan><tspan x="798.02" fill="#0033a0">M</tspan><tspan x="810.60" fill="#0033a0">D</tspan><tspan x="823.18" fill="#0033a0">R</tspan><tspan x="835.76" fill="#174aa2">V</tspan><tspan x="848.34" fill="#0033a0">K</tspan><tspan x="860.92" fill="#0033a0">V</tspan><tspan x="873.50" fill="#0033a0">S</tspan><tspan x="886.08" fill="#4073a6">Q</tspan><tspan x="898.66" fill="#0033a0">A</tspan><tspan x="911.24" fill="#0033a0">A</tspan><tspan x="923.82" fill="#3669a5">A</tspan><tspan x="936.40" fill="#0033a0">D</tspan><tspan x="948.98" fill="#0033a0">L</tspan><tspan x="961.56" fill="#0033a0">L</tspan><tspan x="974.14" fill="#0033a0">A</tspan><tspan x="986.72" fill="#0033a0">Y</tspan><tspan x="999.30" fill="#0033a0">C</tspan><tspan x="1011.88" fill="#3669a5">E</tspan><tspan x="1024.45" fill="#0033a0">A</tspan><tspan x="1037.03" fill="#0033a0">H</tspan><tspan x="1049.61" fill="#7db0a0">V</tspan><tspan x="1062.19" fill="#3669a5">R</tspan><tspan x="1074.77" fill="#3669a5">E</tspan><tspan x="1087.35" fill="#0033a0">D</tspan><tspan x="1099.93" fill="#0033a0">P</tspan><tspan x="1112.51" fill="#0033a0">L</tspan><tspan x="1125.09" fill="#0033a0">I</tspan><tspan x="1137.67" fill="#6b9ea4">I</tspan><tspan x="1150.25" fill="#0033a0">P</tspan><tspan x="1162.83" fill="#0033a0">V</tspan><tspan x="1175.41" fill="#0033a0">P</tspan><tspan x="1187.99" fill="#4073a6">A</tspan><tspan x="1200.57" fill="#0033a0">S</tspan><tspan x="1213.15" fill="#0033a0">E</tspan><tspan x="1225.73" fill="#0033a0">N</tspan><tspan x="1238.31" fill="#0033a0">P</tspan><tspan x="1250.89" fill="#0033a0">F</tspan><tspan x="1263.47" fill="#0033a0">R</tspan><tspan x="1276.05" fill="#0033a0">E</tspan><tspan x="1288.62" fill="#0033a0">K</tspan><tspan x="1301.20" fill="#0033a0">K</tspan><tspan x="1313.78" fill="#0033a0">F</tspan><tspan x="1326.36" fill="#0033a0">F</tspan><tspan x="1338.94" fill="#0033a0">C</tspan><tspan x="1351.52" fill="#99cc99">T</tspan><tspan x="1364.10" fill="#0033a0">I</tspan><tspan x="1376.68" fill="#0033a0">L</tspan></text><text y="251.70"><tspan x="445.80" fill="#3669a5">M</tspan><tspan x="458.38" fill="#0033a0">K</tspan><tspan x="470.95" fill="#2e61a4">E</tspan><tspan x="483.53" fill="#3a6da5">G</tspan><tspan x="496.11" fill="#5c8fa8">M</tspan><tspan x="508.69" fill="#2e61a4">S</tspan><tspan x="521.27" fill="#6b9ea4">N</tspan><tspan x="533.85" fill="#0033a0">N</tspan><tspan x="546.43" fill="#0033a0">S</tspan><tspan x="559.01" fill="#0033a0">T</tspan><tspan x="571.59" fill="#6b9ea4">T</tspan><tspan x="584.17" fill="#0033a0">S</tspan><tspan x="596.75" fill="#0033a0">I</tspan><tspan x="609.33" fill="#0033a0">S</tspan><tspan x="621.91" fill="#0033a0">Q</tspan><tspan x="634.49" fill="#0033a0">A</tspan><tspan x="647.07" fill="#0033a0">R</tspan><tspan x="659.65" fill="#3669a5">K</tspan><tspan x="672.23" fill="#0033a0">A</tspan><tspan x="684.81" fill="#0033a0">V</tspan><tspan x="697.39" fill="#0033a0">E</tspan><tspan x="709.97" fill="#0033a0">Q</tspan><tspan x="722.55" fill="#0033a0">L</tspan><tspan x="735.13" fill="#0033a0">K</tspan><tspan x="747.70" fill="#0033a0">M</tspan><tspan x="760.28" fill="#0033a0">E</tspan><tspan x="772.86" fill="#0033a0">A</tspan><tspan x="785.44" fill="#0033a0">C</tspan><tspan x="798.02" fill="#0033a0">M</tspan><tspan x="810.60" fill="#0033a0">D</tspan><tspan x="823.18" fill="#0033a0">R</tspan><tspan x="835.76" fill="#174aa2">V</tspan><tspan x="848.34" fill="#0033a0">K</tspan><tspan x="860.92" fill="#0033a0">V</tspan><tspan x="873.50" fill="#0033a0">S</tspan><tspan x="886.08" fill="#4073a6">Q</tspan><tspan x="898.66" fill="#0033a0">A</tspan><tspan x="911.24" fill="#0033a0">A</tspan><tspan x="923.82" fill="#3669a5">A</tspan><tspan x="936.40" fill="#0033a0">D</tspan><tspan x="948.98" fill="#0033a0">L</tspan><tspan x="961.56" fill="#0033a0">L</tspan><tspan x="974.14" fill="#0033a0">A</tspan><tspan x="986.72" fill="#0033a0">Y</tspan><tspan x="999.30" fill="#0033a0">C</tspan><tspan x="1011.88" fill="#3669a5">E</tspan><tspan x="1024.45" fill="#0033a0">A</tspan><tspan x="1037.03" fill="#0033a0">H</tspan><tspan x="1049.61" fill="#7db0a0">V</tspan><tspan x="1062.19" fill="#3669a5">R</tspan><tspan x="1074.77" fill="#3669a5">E</tspan><tspan x="1087.35" fill="#0033a0">D</tspan><tspan x="1099.93" fill="#0033a0">P</tspan><tspan x="1112.51" fill="#0033a0">L</tspan><tspan x="1125.09" fill="#0033a0">I</tspan><tspan x="1137.67" fill="#6b9ea4">I</tspan><tspan x="1150.25" fill="#0033a0">P</tspan><tspan x="1162.83" fill="#0033a0">V</tspan><tspan x="1175.41" fill="#0033a0">P</tspan><tspan x="1187.99" fill="#4073a6">A</tspan><tspan x="1200.57" fill="#0033a0">S</tspan><tspan x="1213.15" fill="#0033a0">E</tspan><tspan x="1225.73" fill="#0033a0">N</tspan><tspan x="1238.31" fill="#0033a0">P</tspan><tspan x="1250.89" fill="#0033a0">F</tspan><tspan x="1263.47" fill="#0033a0">R</tspan><tspan x="1276.05" fill="#0033a0">E</tspan><tspan x="1288.62" fill="#0033a0">K</tspan><tspan x="1301.20" fill="#0033a0">K</tspan><tspan x="1313.78" fill="#0033a0">F</tspan><tspan x="1326.36" fill="#0033a0">F</tspan><tspan x="1338.94" fill="#0033a0">C</tspan><tspan x="1351.52" fill="#99cc99">T</tspan><tspan x="1364.10" fill="#0033a0">I</tspan><tspan x="1376.68" fill="#0033a0">L</tspan></text><text y="272.35"><tspan x="445.80" fill="#3669a5">M</tspan><tspan x="458.38" fill="#0033a0">K</tspan><tspan x="470.95" fill="#2e61a4">E</tspan><tspan x="483.53" fill="#3a6da5">G</tspan><tspan x="496.11" fill="#5c8fa8">M</tspan><tspan x="508.69" fill="#2e61a4">S</tspan><tspan x="521.27" fill="#6b9ea4">N</tspan><tspan x="533.85" fill="#0033a0">N</tspan><tspan x="546.43" fill="#0033a0">S</tspan><tspan x="559.01" fill="#0033a0">T</tspan><tspan x="571.59" fill="#6b9ea4">T</tspan><tspan x="584.17" fill="#0033a0">S</tspan><tspan x="596.75" fill="#0033a0">I</tspan><tspan x="609.33" fill="#0033a0">S</tspan><tspan x="621.91" fill="#0033a0">Q</tspan><tspan x="634.49" fill="#0033a0">A</tspan><tspan x="647.07" fill="#0033a0">R</tspan><tspan x="659.65" fill="#3669a5">K</tspan><tspan x="672.23" fill="#0033a0">A</tspan><tspan x="684.81" fill="#0033a0">V</tspan><tspan x="697.39" fill="#0033a0">E</tspan><tspan x="709.97" fill="#0033a0">Q</tspan><tspan x="722.55" fill="#0033a0">L</tspan><tspan x="735.13" fill="#0033a0">K</tspan><tspan x="747.70" fill="#0033a0">M</tspan><tspan x="760.28" fill="#0033a0">E</tspan><tspan x="772.86" fill="#0033a0">A</tspan><tspan x="785.44" fill="#0033a0">C</tspan><tspan x="798.02" fill="#0033a0">M</tspan><tspan x="810.60" fill="#0033a0">D</tspan><tspan x="823.18" fill="#0033a0">R</tspan><tspan x="835.76" fill="#174aa2">V</tspan><tspan x="848.34" fill="#0033a0">K</tspan><tspan x="860.92" fill="#0033a0">V</tspan><tspan x="873.50" fill="#0033a0">S</tspan><tspan x="886.08" fill="#4073a6">Q</tspan><tspan x="898.66" fill="#0033a0">A</tspan><tspan x="911.24" fill="#0033a0">A</tspan><tspan x="923.82" fill="#3669a5">A</tspan><tspan x="936.40" fill="#0033a0">D</tspan><tspan x="948.98" fill="#0033a0">L</tspan><tspan x="961.56" fill="#0033a0">L</tspan><tspan x="974.14" fill="#0033a0">A</tspan><tspan x="986.72" fill="#0033a0">Y</tspan><tspan x="999.30" fill="#0033a0">C</tspan><tspan x="1011.88" fill="#3669a5">E</tspan><tspan x="1024.45" fill="#0033a0">A</tspan><tspan x="1037.03" fill="#0033a0">H</tspan><tspan x="1049.61" fill="#7db0a0">V</tspan><tspan x="1062.19" fill="#3669a5">R</tspan><tspan x="1074.77" fill="#3669a5">E</tspan><tspan x="1087.35" fill="#0033a0">D</tspan><tspan x="1099.93" fill="#0033a0">P</tspan><tspan x="1112.51" fill="#0033a0">L</tspan><tspan x="1125.09" fill="#0033a0">I</tspan><tspan x="1137.67" fill="#6b9ea4">I</tspan><tspan x="1150.25" fill="#0033a0">P</tspan><tspan x="1162.83" fill="#0033a0">V</tspan><tspan x="1175.41" fill="#0033a0">P</tspan><tspan x="1187.99" fill="#4073a6">A</tspan><tspan x="1200.57" fill="#0033a0">S</tspan><tspan x="1213.15" fill="#0033a0">E</tspan><tspan x="1225.73" fill="#0033a0">N</tspan><tspan x="1238.31" fill="#0033a0">P</tspan><tspan x="1250.89" fill="#0033a0">F</tspan><tspan x="1263.47" fill="#0033a0">R</tspan><tspan x="1276.05" fill="#0033a0">E</tspan><tspan x="1288.62" fill="#0033a0">K</tspan><tspan x="1301.20" fill="#0033a0">K</tspan><tspan x="1313.78" fill="#0033a0">F</tspan><tspan x="1326.36" fill="#0033a0">F</tspan><tspan x="1338.94" fill="#0033a0">C</tspan><tspan x="1351.52" fill="#99cc99">T</tspan><tspan x="1364.10" fill="#0033a0">I</tspan><tspan x="1376.68" fill="#0033a0">L</tspan></text><text y="293.00"><tspan x="445.80" fill="#3669a5">M</tspan><tspan x="458.38" fill="#0033a0">K</tspan><tspan x="470.95" fill="#2e61a4">E</tspan><tspan x="483.53" fill="#3a6da5">G</tspan><tspan x="496.11" fill="#5c8fa8">M</tspan><tspan x="508.69" fill="#2e61a4">S</tspan><tspan x="521.27" fill="#6b9ea4">N</tspan><tspan x="533.85" fill="#0033a0">N</tspan><tspan x="546.43" fill="#0033a0">S</tspan><tspan x="559.01" fill="#0033a0">T</tspan><tspan x="571.59" fill="#6b9ea4">T</tspan><tspan x="584.17" fill="#0033a0">S</tspan><tspan x="596.75" fill="#0033a0">I</tspan><tspan x="609.33" fill="#0033a0">S</tspan><tspan x="621.91" fill="#0033a0">Q</tspan><tspan x="634.49" fill="#0033a0">A</tspan><tspan x="647.07" fill="#0033a0">R</tspan><tspan x="659.65" fill="#3669a5">K</tspan><tspan x="672.23" fill="#0033a0">A</tspan><tspan x="684.81" fill="#0033a0">V</tspan><tspan x="697.39" fill="#0033a0">E</tspan><tspan x="709.97" fill="#0033a0">Q</tspan><tspan x="722.55" fill="#0033a0">L</tspan><tspan x="735.13" fill="#0033a0">K</tspan><tspan x="747.70" fill="#0033a0">M</tspan><tspan x="760.28" fill="#0033a0">E</tspan><tspan x="772.86" fill="#0033a0">A</tspan><tspan x="785.44" fill="#0033a0">C</tspan><tspan x="798.02" fill="#0033a0">M</tspan><tspan x="810.60" fill="#0033a0">D</tspan><tspan x="823.18" fill="#0033a0">R</tspan><tspan x="835.76" fill="#174aa2">V</tspan><tspan x="848.34" fill="#0033a0">K</tspan><tspan x="860.92" fill="#0033a0">V</tspan><tspan x="873.50" fill="#0033a0">S</tspan><tspan x="886.08" fill="#4073a6">Q</tspan><tspan x="898.66" fill="#0033a0">A</tspan><tspan x="911.24" fill="#0033a0">A</tspan><tspan x="923.82" fill="#3669a5">A</tspan><tspan x="936.40" fill="#0033a0">D</tspan><tspan x="948.98" fill="#0033a0">L</tspan><tspan x="961.56" fill="#0033a0">L</tspan><tspan x="974.14" fill="#0033a0">A</tspan><tspan x="986.72" fill="#0033a0">Y</tspan><tspan x="999.30" fill="#0033a0">C</tspan><tspan x="1011.88" fill="#3669a5">E</tspan><tspan x="1024.45" fill="#0033a0">A</tspan><tspan x="1037.03" fill="#0033a0">H</tspan><tspan x="1049.61" fill="#7db0a0">V</tspan><tspan x="1062.19" fill="#3669a5">R</tspan><tspan x="1074.77" fill="#3669a5">E</tspan><tspan x="1087.35" fill="#0033a0">D</tspan><tspan x="1099.93" fill="#0033a0">P</tspan><tspan x="1112.51" fill="#0033a0">L</tspan><tspan x="1125.09" fill="#0033a0">I</tspan><tspan x="1137.67" fill="#6b9ea4">V</tspan><tspan x="1150.25" fill="#0033a0">P</tspan><tspan x="1162.83" fill="#0033a0">V</tspan><tspan x="1175.41" fill="#0033a0">P</tspan><tspan x="1187.99" fill="#4073a6">A</tspan><tspan x="1200.57" fill="#0033a0">S</tspan><tspan x="1213.15" fill="#0033a0">E</tspan><tspan x="1225.73" fill="#0033a0">N</tspan><tspan x="1238.31" fill="#0033a0">P</tspan><tspan x="1250.89" fill="#0033a0">F</tspan><tspan x="1263.47" fill="#0033a0">R</tspan><tspan x="1276.05" fill="#0033a0">E</tspan><tspan x="1288.62" fill="#0033a0">K</tspan><tspan x="1301.20" fill="#0033a0">K</tspan><tspan x="1313.78" fill="#0033a0">F</tspan><tspan x="1326.36" fill="#0033a0">F</tspan><tspan x="1338.94" fill="#0033a0">C</tspan><tspan x="1351.52" fill="#99cc99">T</tspan><tspan x="1364.10" fill="#0033a0">I</tspan><tspan x="1376.68" fill="#0033a0">L</tspan></text><text y="313.65"><tspan x="445.80" fill="#3669a5">M</tspan><tspan x="458.38" fill="#0033a0">K</tspan><tspan x="470.95" fill="#2e61a4">E</tspan><tspan x="483.53" fill="#3a6da5">G</tspan><tspan x="496.11" fill="#5c8fa8">M</tspan><tspan x="508.69" fill="#2e61a4">S</tspan><tspan x="521.27" fill="#6b9ea4">N</tspan><tspan x="533.85" fill="#0033a0">N</tspan><tspan x="546.43" fill="#0033a0">S</tspan><tspan x="559.01" fill="#0033a0">T</tspan><tspan x="571.59" fill="#6b9ea4">T</tspan><tspan x="584.17" fill="#0033a0">S</tspan><tspan x="596.75" fill="#0033a0">I</tspan><tspan x="609.33" fill="#0033a0">S</tspan><tspan x="621.91" fill="#0033a0">Q</tspan><tspan x="634.49" fill="#0033a0">A</tspan><tspan x="647.07" fill="#0033a0">R</tspan><tspan x="659.65" fill="#3669a5">K</tspan><tspan x="672.23" fill="#0033a0">A</tspan><tspan x="684.81" fill="#0033a0">V</tspan><tspan x="697.39" fill="#0033a0">E</tspan><tspan x="709.97" fill="#0033a0">Q</tspan><tspan x="722.55" fill="#0033a0">L</tspan><tspan x="735.13" fill="#0033a0">K</tspan><tspan x="747.70" fill="#0033a0">M</tspan><tspan x="760.28" fill="#0033a0">E</tspan><tspan x="772.86" fill="#0033a0">A</tspan><tspan x="785.44" fill="#0033a0">C</tspan><tspan x="798.02" fill="#0033a0">M</tspan><tspan x="810.60" fill="#0033a0">D</tspan><tspan x="823.18" fill="#0033a0">R</tspan><tspan x="835.76" fill="#174aa2">V</tspan><tspan x="848.34" fill="#0033a0">K</tspan><tspan x="860.92" fill="#0033a0">V</tspan><tspan x="873.50" fill="#0033a0">S</tspan><tspan x="886.08" fill="#4073a6">Q</tspan><tspan x="898.66" fill="#0033a0">A</tspan><tspan x="911.24" fill="#0033a0">A</tspan><tspan x="923.82" fill="#3669a5">S</tspan><tspan x="936.40" fill="#0033a0">D</tspan><tspan x="948.98" fill="#0033a0">L</tspan><tspan x="961.56" fill="#0033a0">L</tspan><tspan x="974.14" fill="#0033a0">A</tspan><tspan x="986.72" fill="#0033a0">Y</tspan><tspan x="999.30" fill="#0033a0">C</tspan><tspan x="1011.88" fill="#3669a5">E</tspan><tspan x="1024.45" fill="#0033a0">A</tspan><tspan x="1037.03" fill="#0033a0">H</tspan><tspan x="1049.61" fill="#7db0a0">V</tspan><tspan x="1062.19" fill="#3669a5">R</tspan><tspan x="1074.77" fill="#3669a5">E</tspan><tspan x="1087.35" fill="#0033a0">D</tspan><tspan x="1099.93" fill="#0033a0">P</tspan><tspan x="1112.51" fill="#0033a0">L</tspan><tspan x="1125.09" fill="#0033a0">I</tspan><tspan x="1137.67" fill="#6b9ea4">I</tspan><tspan x="1150.25" fill="#0033a0">P</tspan><tspan x="1162.83" fill="#0033a0">V</tspan><tspan x="1175.41" fill="#0033a0">P</tspan><tspan x="1187.99" fill="#4073a6">A</tspan><tspan x="1200.57" fill="#0033a0">S</tspan><tspan x="1213.15" fill="#0033a0">E</tspan><tspan x="1225.73" fill="#0033a0">N</tspan><tspan x="1238.31" fill="#0033a0">P</tspan><tspan x="1250.89" fill="#0033a0">F</tspan><tspan x="1263.47" fill="#0033a0">R</tspan><tspan x="1276.05" fill="#0033a0">E</tspan><tspan x="1288.62" fill="#0033a0">K</tspan><tspan x="1301.20" fill="#0033a0">K</tspan><tspan x="1313.78" fill="#0033a0">F</tspan><tspan x="1326.36" fill="#0033a0">F</tspan><tspan x="1338.94" fill="#0033a0">C</tspan><tspan x="1351.52" fill="#99cc99">T</tspan><tspan x="1364.10" fill="#0033a0">I</tspan><tspan x="1376.68" fill="#0033a0">L</tspan></text><text y="334.30"><tspan x="445.80" fill="#3669a5">M</tspan><tspan x="458.38" fill="#0033a0">K</tspan><tspan x="470.95" fill="#2e61a4">E</tspan><tspan x="483.53" fill="#3a6da5">G</tspan><tspan x="496.11" fill="#5c8fa8">M</tspan><tspan x="508.69" fill="#2e61a4">S</tspan><tspan x="521.27" fill="#6b9ea4">N</tspan><tspan x="533.85" fill="#0033a0">N</tspan><tspan x="546.43" fill="#0033a0">S</tspan><tspan x="559.01" fill="#0033a0">T</tspan><tspan x="571.59" fill="#6b9ea4">T</tspan><tspan x="584.17" fill="#0033a0">S</tspan><tspan x="596.75" fill="#0033a0">I</tspan><tspan x="609.33" fill="#0033a0">S</tspan><tspan x="621.91" fill="#0033a0">Q</tspan><tspan x="634.49" fill="#0033a0">A</tspan><tspan x="647.07" fill="#0033a0">R</tspan><tspan x="659.65" fill="#3669a5">K</tspan><tspan x="672.23" fill="#0033a0">A</tspan><tspan x="684.81" fill="#0033a0">V</tspan><tspan x="697.39" fill="#0033a0">E</tspan><tspan x="709.97" fill="#0033a0">Q</tspan><tspan x="722.55" fill="#0033a0">L</tspan><tspan x="735.13" fill="#0033a0">K</tspan><tspan x="747.70" fill="#0033a0">M</tspan><tspan x="760.28" fill="#0033a0">E</tspan><tspan x="772.86" fill="#0033a0">A</tspan><tspan x="785.44" fill="#0033a0">C</tspan><tspan x="798.02" fill="#0033a0">M</tspan><tspan x="810.60" fill="#0033a0">D</tspan><tspan x="823.18" fill="#0033a0">R</tspan><tspan x="835.76" fill="#174aa2">V</tspan><tspan x="848.34" fill="#0033a0">K</tspan><tspan x="860.92" fill="#0033a0">V</tspan><tspan x="873.50" fill="#0033a0">S</tspan><tspan x="886.08" fill="#4073a6">Q</tspan><tspan x="898.66" fill="#0033a0">A</tspan><tspan x="911.24" fill="#0033a0">A</tspan><tspan x="923.82" fill="#3669a5">S</tspan><tspan x="936.40" fill="#0033a0">D</tspan><tspan x="948.98" fill="#0033a0">L</tspan><tspan x="961.56" fill="#0033a0">L</tspan><tspan x="974.14" fill="#0033a0">A</tspan><tspan x="986.72" fill="#0033a0">Y</tspan><tspan x="999.30" fill="#0033a0">C</tspan><tspan x="1011.88" fill="#3669a5">E</tspan><tspan x="1024.45" fill="#0033a0">A</tspan><tspan x="1037.03" fill="#0033a0">H</tspan><tspan x="1049.61" fill="#7db0a0">V</tspan><tspan x="1062.19" fill="#3669a5">R</tspan><tspan x="1074.77" fill="#3669a5">E</tspan><tspan x="1087.35" fill="#0033a0">D</tspan><tspan x="1099.93" fill="#0033a0">P</tspan><tspan x="1112.51" fill="#0033a0">L</tspan><tspan x="1125.09" fill="#0033a0">I</tspan><tspan x="1137.67" fill="#6b9ea4">I</tspan><tspan x="1150.25" fill="#0033a0">P</tspan><tspan x="1162.83" fill="#0033a0">V</tspan><tspan x="1175.41" fill="#0033a0">P</tspan><tspan x="1187.99" fill="#4073a6">A</tspan><tspan x="1200.57" fill="#0033a0">S</tspan><tspan x="1213.15" fill="#0033a0">E</tspan><tspan x="1225.73" fill="#0033a0">N</tspan><tspan x="1238.31" fill="#0033a0">P</tspan><tspan x="1250.89" fill="#0033a0">F</tspan><tspan x="1263.47" fill="#0033a0">R</tspan><tspan x="1276.05" fill="#0033a0">E</tspan><tspan x="1288.62" fill="#0033a0">K</tspan><tspan x="1301.20" fill="#0033a0">K</tspan><tspan x="1313.78" fill="#0033a0">F</tspan><tspan x="1326.36" fill="#0033a0">F</tspan><tspan x="1338.94" fill="#0033a0">C</tspan><tspan x="1351.52" fill="#99cc99">T</tspan><tspan x="1364.10" fill="#0033a0">I</tspan><tspan x="1376.68" fill="#0033a0">L</tspan></text><text y="354.95"><tspan x="445.80" fill="#3669a5">I</tspan><tspan x="458.38" fill="#0033a0">K</tspan><tspan x="470.95" fill="#2e61a4">E</tspan><tspan x="483.53" fill="#3a6da5">G</tspan><tspan x="496.11" fill="#5c8fa8">M</tspan><tspan x="508.69" fill="#2e61a4">S</tspan><tspan x="521.27" fill="#6b9ea4">N</tspan><tspan x="533.85" fill="#0033a0">N</tspan><tspan x="546.43" fill="#0033a0">S</tspan><tspan x="559.01" fill="#0033a0">T</tspan><tspan x="571.59" fill="#6b9ea4">T</tspan><tspan x="584.17" fill="#0033a0">S</tspan><tspan x="596.75" fill="#0033a0">I</tspan><tspan x="609.33" fill="#0033a0">S</tspan><tspan x="621.91" fill="#0033a0">Q</tspan><tspan x="634.49" fill="#0033a0">A</tspan><tspan x="647.07" fill="#0033a0">R</tspan><tspan x="659.65" fill="#3669a5">K</tspan><tspan x="672.23" fill="#0033a0">A</tspan><tspan x="684.81" fill="#0033a0">V</tspan><tspan x="697.39" fill="#0033a0">E</tspan><tspan x="709.97" fill="#0033a0">Q</tspan><tspan x="722.55" fill="#0033a0">L</tspan><tspan x="735.13" fill="#0033a0">K</tspan><tspan x="747.70" fill="#0033a0">M</tspan><tspan x="760.28" fill="#0033a0">E</tspan><tspan x="772.86" fill="#0033a0">A</tspan><tspan x="785.44" fill="#0033a0">C</tspan><tspan x="798.02" fill="#0033a0">M</tspan><tspan x="810.60" fill="#0033a0">D</tspan><tspan x="823.18" fill="#0033a0">R</tspan><tspan x="835.76" fill="#174aa2">V</tspan><tspan x="848.34" fill="#0033a0">K</tspan><tspan x="860.92" fill="#0033a0">V</tspan><tspan x="873.50" fill="#0033a0">S</tspan><tspan x="886.08" fill="#4073a6">Q</tspan><tspan x="898.66" fill="#0033a0">A</tspan><tspan x="911.24" fill="#0033a0">A</tspan><tspan x="923.82" fill="#3669a5">A</tspan><tspan x="936.40" fill="#0033a0">D</tspan><tspan x="948.98" fill="#0033a0">L</tspan><tspan x="961.56" fill="#0033a0">L</tspan><tspan x="974.14" fill="#0033a0">A</tspan><tspan x="986.72" fill="#0033a0">Y</tspan><tspan x="999.30" fill="#0033a0">C</tspan><tspan x="1011.88" fill="#3669a5">E</tspan><tspan x="1024.45" fill="#0033a0">A</tspan><tspan x="1037.03" fill="#0033a0">H</tspan><tspan x="1049.61" fill="#7db0a0">V</tspan><tspan x="1062.19" fill="#3669a5">R</tspan><tspan x="1074.77" fill="#3669a5">E</tspan><tspan x="1087.35" fill="#0033a0">D</tspan><tspan x="1099.93" fill="#0033a0">P</tspan><tspan x="1112.51" fill="#0033a0">L</tspan><tspan x="1125.09" fill="#0033a0">I</tspan><tspan x="1137.67" fill="#6b9ea4">I</tspan><tspan x="1150.25" fill="#0033a0">P</tspan><tspan x="1162.83" fill="#0033a0">V</tspan><tspan x="1175.41" fill="#0033a0">P</tspan><tspan x="1187.99" fill="#4073a6">A</tspan><tspan x="1200.57" fill="#0033a0">S</tspan><tspan x="1213.15" fill="#0033a0">E</tspan><tspan x="1225.73" fill="#0033a0">N</tspan><tspan x="1238.31" fill="#0033a0">P</tspan><tspan x="1250.89" fill="#0033a0">F</tspan><tspan x="1263.47" fill="#0033a0">R</tspan><tspan x="1276.05" fill="#0033a0">E</tspan><tspan x="1288.62" fill="#0033a0">K</tspan><tspan x="1301.20" fill="#0033a0">K</tspan><tspan x="1313.78" fill="#0033a0">F</tspan><tspan x="1326.36" fill="#0033a0">F</tspan><tspan x="1338.94" fill="#0033a0">C</tspan><tspan x="1351.52" fill="#99cc99">T</tspan><tspan x="1364.10" fill="#0033a0">I</tspan><tspan x="1376.68" fill="#0033a0">L</tspan></text><text y="375.60"><tspan x="445.80" fill="#3669a5">I</tspan><tspan x="458.38" fill="#0033a0">K</tspan><tspan x="470.95" fill="#2e61a4">E</tspan><tspan x="483.53" fill="#3a6da5">G</tspan><tspan x="496.11" fill="#5c8fa8">M</tspan><tspan x="508.69" fill="#2e61a4">S</tspan><tspan x="521.27" fill="#6b9ea4">N</tspan><tspan x="533.85" fill="#0033a0">N</tspan><tspan x="546.43" fill="#0033a0">S</tspan><tspan x="559.01" fill="#0033a0">T</tspan><tspan x="571.59" fill="#6b9ea4">T</tspan><tspan x="584.17" fill="#0033a0">S</tspan><tspan x="596.75" fill="#0033a0">I</tspan><tspan x="609.33" fill="#0033a0">S</tspan><tspan x="621.91" fill="#0033a0">Q</tspan><tspan x="634.49" fill="#0033a0">A</tspan><tspan x="647.07" fill="#0033a0">R</tspan><tspan x="659.65" fill="#3669a5">K</tspan><tspan x="672.23" fill="#0033a0">A</tspan><tspan x="684.81" fill="#0033a0">V</tspan><tspan x="697.39" fill="#0033a0">E</tspan><tspan x="709.97" fill="#0033a0">Q</tspan><tspan x="722.55" fill="#0033a0">L</tspan><tspan x="735.13" fill="#0033a0">K</tspan><tspan x="747.70" fill="#0033a0">M</tspan><tspan x="760.28" fill="#0033a0">E</tspan><tspan x="772.86" fill="#0033a0">A</tspan><tspan x="785.44" fill="#0033a0">C</tspan><tspan x="798.02" fill="#0033a0">M</tspan><tspan x="810.60" fill="#0033a0">D</tspan><tspan x="823.18" fill="#0033a0">R</tspan><tspan x="835.76" fill="#174aa2">V</tspan><tspan x="848.34" fill="#0033a0">K</tspan><tspan x="860.92" fill="#0033a0">V</tspan><tspan x="873.50" fill="#0033a0">S</tspan><tspan x="886.08" fill="#4073a6">Q</tspan><tspan x="898.66" fill="#0033a0">A</tspan><tspan x="911.24" fill="#0033a0">A</tspan><tspan x="923.82" fill="#3669a5">A</tspan><tspan x="936.40" fill="#0033a0">D</tspan><tspan x="948.98" fill="#0033a0">L</tspan><tspan x="961.56" fill="#0033a0">L</tspan><tspan x="974.14" fill="#0033a0">A</tspan><tspan x="986.72" fill="#0033a0">Y</tspan><tspan x="999.30" fill="#0033a0">C</tspan><tspan x="1011.88" fill="#3669a5">E</tspan><tspan x="1024.45" fill="#0033a0">A</tspan><tspan x="1037.03" fill="#0033a0">H</tspan><tspan x="1049.61" fill="#7db0a0">V</tspan><tspan x="1062.19" fill="#3669a5">R</tspan><tspan x="1074.77" fill="#3669a5">E</tspan><tspan x="1087.35" fill="#0033a0">D</tspan><tspan x="1099.93" fill="#0033a0">P</tspan><tspan x="1112.51" fill="#0033a0">L</tspan><tspan x="1125.09" fill="#0033a0">I</tspan><tspan x="1137.67" fill="#6b9ea4">I</tspan><tspan x="1150.25" fill="#0033a0">P</tspan><tspan x="1162.83" fill="#0033a0">V</tspan><tspan x="1175.41" fill="#0033a0">P</tspan><tspan x="1187.99" fill="#4073a6">A</tspan><tspan x="1200.57" fill="#0033a0">S</tspan><tspan x="1213.15" fill="#0033a0">E</tspan><tspan x="1225.73" fill="#0033a0">N</tspan><tspan x="1238.31" fill="#0033a0">P</tspan><tspan x="1250.89" fill="#0033a0">F</tspan><tspan x="1263.47" fill="#0033a0">R</tspan><tspan x="1276.05" fill="#0033a0">E</tspan><tspan x="1288.62" fill="#0033a0">K</tspan><tspan x="1301.20" fill="#0033a0">K</tspan><tspan x="1313.78" fill="#0033a0">F</tspan><tspan x="1326.36" fill="#0033a0">F</tspan><tspan x="1338.94" fill="#0033a0">C</tspan><tspan x="1351.52" fill="#99cc99">T</tspan><tspan x="1364.10" fill="#0033a0">I</tspan><tspan x="1376.68" fill="#0033a0">L</tspan></text><text y="396.25"><tspan x="445.80" fill="#3669a5">I</tspan><tspan x="458.38" fill="#0033a0">K</tspan><tspan x="470.95" fill="#2e61a4">E</tspan><tspan x="483.53" fill="#3a6da5">G</tspan><tspan x="496.11" fill="#5c8fa8">M</tspan><tspan x="508.69" fill="#2e61a4">S</tspan><tspan x="521.27" fill="#6b9ea4">N</tspan><tspan x="533.85" fill="#0033a0">N</tspan><tspan x="546.43" fill="#0033a0">S</tspan><tspan x="559.01" fill="#0033a0">T</tspan><tspan x="571.59" fill="#6b9ea4">T</tspan><tspan x="584.17" fill="#0033a0">S</tspan><tspan x="596.75" fill="#0033a0">I</tspan><tspan x="609.33" fill="#0033a0">S</tspan><tspan x="621.91" fill="#0033a0">Q</tspan><tspan x="634.49" fill="#0033a0">A</tspan><tspan x="647.07" fill="#0033a0">R</tspan><tspan x="659.65" fill="#3669a5">K</tspan><tspan x="672.23" fill="#0033a0">A</tspan><tspan x="684.81" fill="#0033a0">V</tspan><tspan x="697.39" fill="#0033a0">E</tspan><tspan x="709.97" fill="#0033a0">Q</tspan><tspan x="722.55" fill="#0033a0">L</tspan><tspan x="735.13" fill="#0033a0">K</tspan><tspan x="747.70" fill="#0033a0">M</tspan><tspan x="760.28" fill="#0033a0">E</tspan><tspan x="772.86" fill="#0033a0">A</tspan><tspan x="785.44" fill="#0033a0">C</tspan><tspan x="798.02" fill="#0033a0">M</tspan><tspan x="810.60" fill="#0033a0">D</tspan><tspan x="823.18" fill="#0033a0">R</tspan><tspan x="835.76" fill="#174aa2">V</tspan><tspan x="848.34" fill="#0033a0">K</tspan><tspan x="860.92" fill="#0033a0">V</tspan><tspan x="873.50" fill="#0033a0">S</tspan><tspan x="886.08" fill="#4073a6">Q</tspan><tspan x="898.66" fill="#0033a0">A</tspan><tspan x="911.24" fill="#0033a0">A</tspan><tspan x="923.82" fill="#3669a5">A</tspan><tspan x="936.40" fill="#0033a0">D</tspan><tspan x="948.98" fill="#0033a0">L</tspan><tspan x="961.56" fill="#0033a0">L</tspan><tspan x="974.14" fill="#0033a0">A</tspan><tspan x="986.72" fill="#0033a0">Y</tspan><tspan x="999.30" fill="#0033a0">C</tspan><tspan x="1011.88" fill="#3669a5">E</tspan><tspan x="1024.45" fill="#0033a0">A</tspan><tspan x="1037.03" fill="#0033a0">H</tspan><tspan x="1049.61" fill="#7db0a0">V</tspan><tspan x="1062.19" fill="#3669a5">R</tspan><tspan x="1074.77" fill="#3669a5">E</tspan><tspan x="1087.35" fill="#0033a0">D</tspan><tspan x="1099.93" fill="#0033a0">P</tspan><tspan x="1112.51" fill="#0033a0">L</tspan><tspan x="1125.09" fill="#0033a0">I</tspan><tspan x="1137.67" fill="#6b9ea4">I</tspan><tspan x="1150.25" fill="#0033a0">P</tspan><tspan x="1162.83" fill="#0033a0">V</tspan><tspan x="1175.41" fill="#0033a0">P</tspan><tspan x="1187.99" fill="#4073a6">A</tspan><tspan x="1200.57" fill="#0033a0">S</tspan><tspan x="1213.15" fill="#0033a0">E</tspan><tspan x="1225.73" fill="#0033a0">N</tspan><tspan x="1238.31" fill="#0033a0">P</tspan><tspan x="1250.89" fill="#0033a0">F</tspan><tspan x="1263.47" fill="#0033a0">R</tspan><tspan x="1276.05" fill="#0033a0">E</tspan><tspan x="1288.62" fill="#0033a0">K</tspan><tspan x="1301.20" fill="#0033a0">K</tspan><tspan x="1313.78" fill="#0033a0">F</tspan><tspan x="1326.36" fill="#0033a0">F</tspan><tspan x="1338.94" fill="#0033a0">C</tspan><tspan x="1351.52" fill="#99cc99">T</tspan><tspan x="1364.10" fill="#0033a0">I</tspan><tspan x="1376.68" fill="#0033a0">L</tspan></text><text y="416.90"><tspan x="445.80" fill="#3669a5">V</tspan><tspan x="458.38" fill="#0033a0">K</tspan><tspan x="470.95" fill="#2e61a4">E</tspan><tspan x="483.53" fill="#3a6da5">G</tspan><tspan x="496.11" fill="#5c8fa8">M</tspan><tspan x="508.69" fill="#2e61a4">S</tspan><tspan x="521.27" fill="#6b9ea4">N</tspan><tspan x="533.85" fill="#0033a0">N</tspan><tspan x="546.43" fill="#0033a0">S</tspan><tspan x="559.01" fill="#0033a0">T</tspan><tspan x="571.59" fill="#6b9ea4">T</tspan><tspan x="584.17" fill="#0033a0">S</tspan><tspan x="596.75" fill="#0033a0">I</tspan><tspan x="609.33" fill="#0033a0">S</tspan><tspan x="621.91" fill="#0033a0">Q</tspan><tspan x="634.49" fill="#0033a0">A</tspan><tspan x="647.07" fill="#0033a0">R</tspan><tspan x="659.65" fill="#3669a5">K</tspan><tspan x="672.23" fill="#0033a0">A</tspan><tspan x="684.81" fill="#0033a0">V</tspan><tspan x="697.39" fill="#0033a0">E</tspan><tspan x="709.97" fill="#0033a0">Q</tspan><tspan x="722.55" fill="#0033a0">L</tspan><tspan x="735.13" fill="#0033a0">K</tspan><tspan x="747.70" fill="#0033a0">M</tspan><tspan x="760.28" fill="#0033a0">E</tspan><tspan x="772.86" fill="#0033a0">A</tspan><tspan x="785.44" fill="#0033a0">C</tspan><tspan x="798.02" fill="#0033a0">M</tspan><tspan x="810.60" fill="#0033a0">D</tspan><tspan x="823.18" fill="#0033a0">R</tspan><tspan x="835.76" fill="#174aa2">V</tspan><tspan x="848.34" fill="#0033a0">K</tspan><tspan x="860.92" fill="#0033a0">V</tspan><tspan x="873.50" fill="#0033a0">S</tspan><tspan x="886.08" fill="#4073a6">Q</tspan><tspan x="898.66" fill="#0033a0">A</tspan><tspan x="911.24" fill="#0033a0">A</tspan><tspan x="923.82" fill="#3669a5">A</tspan><tspan x="936.40" fill="#0033a0">D</tspan><tspan x="948.98" fill="#0033a0">L</tspan><tspan x="961.56" fill="#0033a0">L</tspan><tspan x="974.14" fill="#0033a0">A</tspan><tspan x="986.72" fill="#0033a0">Y</tspan><tspan x="999.30" fill="#0033a0">C</tspan><tspan x="1011.88" fill="#3669a5">E</tspan><tspan x="1024.45" fill="#0033a0">A</tspan><tspan x="1037.03" fill="#0033a0">H</tspan><tspan x="1049.61" fill="#7db0a0">I</tspan><tspan x="1062.19" fill="#3669a5">R</tspan><tspan x="1074.77" fill="#3669a5">E</tspan><tspan x="1087.35" fill="#0033a0">D</tspan><tspan x="1099.93" fill="#0033a0">P</tspan><tspan x="1112.51" fill="#0033a0">L</tspan><tspan x="1125.09" fill="#0033a0">I</tspan><tspan x="1137.67" fill="#6b9ea4">I</tspan><tspan x="1150.25" fill="#0033a0">P</tspan><tspan x="1162.83" fill="#0033a0">V</tspan><tspan x="1175.41" fill="#0033a0">P</tspan><tspan x="1187.99" fill="#4073a6">V</tspan><tspan x="1200.57" fill="#0033a0">S</tspan><tspan x="1213.15" fill="#0033a0">E</tspan><tspan x="1225.73" fill="#0033a0">N</tspan><tspan x="1238.31" fill="#0033a0">P</tspan><tspan x="1250.89" fill="#0033a0">F</tspan><tspan x="1263.47" fill="#0033a0">R</tspan><tspan x="1276.05" fill="#0033a0">E</tspan><tspan x="1288.62" fill="#0033a0">K</tspan><tspan x="1301.20" fill="#0033a0">K</tspan><tspan x="1313.78" fill="#0033a0">F</tspan><tspan x="1326.36" fill="#0033a0">F</tspan><tspan x="1338.94" fill="#0033a0">C</tspan><tspan x="1351.52" fill="#99cc99">T</tspan><tspan x="1364.10" fill="#0033a0">I</tspan><tspan x="1376.68" fill="#0033a0">L</tspan></text><text y="437.55"><tspan x="445.80" fill="#3669a5">M</tspan><tspan x="458.38" fill="#0033a0">K</tspan><tspan x="470.95" fill="#2e61a4">E</tspan><tspan x="483.53" fill="#3a6da5">G</tspan><tspan x="496.11" fill="#5c8fa8">M</tspan><tspan x="508.69" fill="#2e61a4">S</tspan><tspan x="521.27" fill="#6b9ea4">N</tspan><tspan x="533.85" fill="#0033a0">N</tspan><tspan x="546.43" fill="#0033a0">S</tspan><tspan x="559.01" fill="#0033a0">T</tspan><tspan x="571.59" fill="#6b9ea4">T</tspan><tspan x="584.17" fill="#0033a0">S</tspan><tspan x="596.75" fill="#0033a0">I</tspan><tspan x="609.33" fill="#0033a0">S</tspan><tspan x="621.91" fill="#0033a0">Q</tspan><tspan x="634.49" fill="#0033a0">A</tspan><tspan x="647.07" fill="#0033a0">R</tspan><tspan x="659.65" fill="#3669a5">K</tspan><tspan x="672.23" fill="#0033a0">A</tspan><tspan x="684.81" fill="#0033a0">V</tspan><tspan x="697.39" fill="#0033a0">E</tspan><tspan x="709.97" fill="#0033a0">Q</tspan><tspan x="722.55" fill="#0033a0">L</tspan><tspan x="735.13" fill="#0033a0">K</tspan><tspan x="747.70" fill="#0033a0">M</tspan><tspan x="760.28" fill="#0033a0">E</tspan><tspan x="772.86" fill="#0033a0">A</tspan><tspan x="785.44" fill="#0033a0">C</tspan><tspan x="798.02" fill="#0033a0">M</tspan><tspan x="810.60" fill="#0033a0">D</tspan><tspan x="823.18" fill="#0033a0">R</tspan><tspan x="835.76" fill="#174aa2">V</tspan><tspan x="848.34" fill="#0033a0">K</tspan><tspan x="860.92" fill="#0033a0">V</tspan><tspan x="873.50" fill="#0033a0">S</tspan><tspan x="886.08" fill="#4073a6">Q</tspan><tspan x="898.66" fill="#0033a0">A</tspan><tspan x="911.24" fill="#0033a0">A</tspan><tspan x="923.82" fill="#3669a5">A</tspan><tspan x="936.40" fill="#0033a0">D</tspan><tspan x="948.98" fill="#0033a0">L</tspan><tspan x="961.56" fill="#0033a0">L</tspan><tspan x="974.14" fill="#0033a0">A</tspan><tspan x="986.72" fill="#0033a0">Y</tspan><tspan x="999.30" fill="#0033a0">C</tspan><tspan x="1011.88" fill="#3669a5">E</tspan><tspan x="1024.45" fill="#0033a0">A</tspan><tspan x="1037.03" fill="#0033a0">H</tspan><tspan x="1049.61" fill="#7db0a0">V</tspan><tspan x="1062.19" fill="#3669a5">R</tspan><tspan x="1074.77" fill="#3669a5">E</tspan><tspan x="1087.35" fill="#0033a0">D</tspan><tspan x="1099.93" fill="#0033a0">P</tspan><tspan x="1112.51" fill="#0033a0">L</tspan><tspan x="1125.09" fill="#0033a0">I</tspan><tspan x="1137.67" fill="#6b9ea4">I</tspan><tspan x="1150.25" fill="#0033a0">P</tspan><tspan x="1162.83" fill="#0033a0">V</tspan><tspan x="1175.41" fill="#0033a0">P</tspan><tspan x="1187.99" fill="#4073a6">V</tspan><tspan x="1200.57" fill="#0033a0">S</tspan><tspan x="1213.15" fill="#0033a0">E</tspan><tspan x="1225.73" fill="#0033a0">N</tspan><tspan x="1238.31" fill="#0033a0">P</tspan><tspan x="1250.89" fill="#0033a0">F</tspan><tspan x="1263.47" fill="#0033a0">R</tspan><tspan x="1276.05" fill="#0033a0">E</tspan><tspan x="1288.62" fill="#0033a0">K</tspan><tspan x="1301.20" fill="#0033a0">K</tspan><tspan x="1313.78" fill="#0033a0">F</tspan><tspan x="1326.36" fill="#0033a0">F</tspan><tspan x="1338.94" fill="#0033a0">C</tspan><tspan x="1351.52" fill="#99cc99">T</tspan><tspan x="1364.10" fill="#0033a0">I</tspan><tspan x="1376.68" fill="#0033a0">L</tspan></text><text y="458.20"><tspan x="445.80" fill="#3669a5">M</tspan><tspan x="458.38" fill="#0033a0">K</tspan><tspan x="470.95" fill="#2e61a4">E</tspan><tspan x="483.53" fill="#3a6da5">G</tspan><tspan x="496.11" fill="#5c8fa8">M</tspan><tspan x="508.69" fill="#2e61a4">S</tspan><tspan x="521.27" fill="#6b9ea4">S</tspan><tspan x="533.85" fill="#0033a0">N</tspan><tspan x="546.43" fill="#0033a0">S</tspan><tspan x="559.01" fill="#0033a0">T</tspan><tspan x="571.59" fill="#6b9ea4">A</tspan><tspan x="584.17" fill="#0033a0">S</tspan><tspan x="596.75" fill="#0033a0">I</tspan><tspan x="609.33" fill="#0033a0">S</tspan><tspan x="621.91" fill="#0033a0">Q</tspan><tspan x="634.49" fill="#0033a0">A</tspan><tspan x="647.07" fill="#0033a0">R</tspan><tspan x="659.65" fill="#3669a5">K</tspan><tspan x="672.23" fill="#0033a0">A</tspan><tspan x="684.81" fill="#0033a0">V</tspan><tspan x="697.39" fill="#0033a0">E</tspan><tspan x="709.97" fill="#0033a0">Q</tspan><tspan x="722.55" fill="#0033a0">L</tspan><tspan x="735.13" fill="#0033a0">K</tspan><tspan x="747.70" fill="#0033a0">M</tspan><tspan x="760.28" fill="#0033a0">E</tspan><tspan x="772.86" fill="#0033a0">A</tspan><tspan x="785.44" fill="#0033a0">C</tspan><tspan x="798.02" fill="#0033a0">M</tspan><tspan x="810.60" fill="#0033a0">D</tspan><tspan x="823.18" fill="#0033a0">R</tspan><tspan x="835.76" fill="#174aa2">V</tspan><tspan x="848.34" fill="#0033a0">K</tspan><tspan x="860.92" fill="#0033a0">V</tspan><tspan x="873.50" fill="#0033a0">S</tspan><tspan x="886.08" fill="#4073a6">Q</tspan><tspan x="898.66" fill="#0033a0">A</tspan><tspan x="911.24" fill="#0033a0">A</tspan><tspan x="923.82" fill="#3669a5">A</tspan><tspan x="936.40" fill="#0033a0">D</tspan><tspan x="948.98" fill="#0033a0">L</tspan><tspan x="961.56" fill="#0033a0">L</tspan><tspan x="974.14" fill="#0033a0">A</tspan><tspan x="986.72" fill="#0033a0">Y</tspan><tspan x="999.30" fill="#0033a0">C</tspan><tspan x="1011.88" fill="#3669a5">E</tspan><tspan x="1024.45" fill="#0033a0">A</tspan><tspan x="1037.03" fill="#0033a0">H</tspan><tspan x="1049.61" fill="#7db0a0">V</tspan><tspan x="1062.19" fill="#3669a5">R</tspan><tspan x="1074.77" fill="#3669a5">E</tspan><tspan x="1087.35" fill="#0033a0">D</tspan><tspan x="1099.93" fill="#0033a0">P</tspan><tspan x="1112.51" fill="#0033a0">L</tspan><tspan x="1125.09" fill="#0033a0">I</tspan><tspan x="1137.67" fill="#6b9ea4">I</tspan><tspan x="1150.25" fill="#0033a0">P</tspan><tspan x="1162.83" fill="#0033a0">V</tspan><tspan x="1175.41" fill="#0033a0">P</tspan><tspan x="1187.99" fill="#4073a6">A</tspan><tspan x="1200.57" fill="#0033a0">S</tspan><tspan x="1213.15" fill="#0033a0">E</tspan><tspan x="1225.73" fill="#0033a0">N</tspan><tspan x="1238.31" fill="#0033a0">P</tspan><tspan x="1250.89" fill="#0033a0">F</tspan><tspan x="1263.47" fill="#0033a0">R</tspan><tspan x="1276.05" fill="#0033a0">E</tspan><tspan x="1288.62" fill="#0033a0">K</tspan><tspan x="1301.20" fill="#0033a0">K</tspan><tspan x="1313.78" fill="#0033a0">F</tspan><tspan x="1326.36" fill="#0033a0">F</tspan><tspan x="1338.94" fill="#0033a0">C</tspan><tspan x="1351.52" fill="#99cc99">T</tspan><tspan x="1364.10" fill="#0033a0">I</tspan><tspan x="1376.68" fill="#0033a0">L</tspan></text><text y="478.85"><tspan x="445.80" fill="#3669a5">M</tspan><tspan x="458.38" fill="#0033a0">K</tspan><tspan x="470.95" fill="#2e61a4">E</tspan><tspan x="483.53" fill="#3a6da5">G</tspan><tspan x="496.11" fill="#5c8fa8">M</tspan><tspan x="508.69" fill="#2e61a4">S</tspan><tspan x="521.27" fill="#6b9ea4">N</tspan><tspan x="533.85" fill="#0033a0">N</tspan><tspan x="546.43" fill="#0033a0">S</tspan><tspan x="559.01" fill="#0033a0">T</tspan><tspan x="571.59" fill="#6b9ea4">A</tspan><tspan x="584.17" fill="#0033a0">S</tspan><tspan x="596.75" fill="#0033a0">I</tspan><tspan x="609.33" fill="#0033a0">S</tspan><tspan x="621.91" fill="#0033a0">Q</tspan><tspan x="634.49" fill="#0033a0">A</tspan><tspan x="647.07" fill="#0033a0">R</tspan><tspan x="659.65" fill="#3669a5">K</tspan><tspan x="672.23" fill="#0033a0">A</tspan><tspan x="684.81" fill="#0033a0">V</tspan><tspan x="697.39" fill="#0033a0">E</tspan><tspan x="709.97" fill="#0033a0">Q</tspan><tspan x="722.55" fill="#0033a0">L</tspan><tspan x="735.13" fill="#0033a0">K</tspan><tspan x="747.70" fill="#0033a0">M</tspan><tspan x="760.28" fill="#0033a0">E</tspan><tspan x="772.86" fill="#0033a0">A</tspan><tspan x="785.44" fill="#0033a0">C</tspan><tspan x="798.02" fill="#0033a0">M</tspan><tspan x="810.60" fill="#0033a0">D</tspan><tspan x="823.18" fill="#0033a0">R</tspan><tspan x="835.76" fill="#174aa2">V</tspan><tspan x="848.34" fill="#0033a0">K</tspan><tspan x="860.92" fill="#0033a0">V</tspan><tspan x="873.50" fill="#0033a0">S</tspan><tspan x="886.08" fill="#4073a6">Q</tspan><tspan x="898.66" fill="#0033a0">A</tspan><tspan x="911.24" fill="#0033a0">A</tspan><tspan x="923.82" fill="#3669a5">A</tspan><tspan x="936.40" fill="#0033a0">D</tspan><tspan x="948.98" fill="#0033a0">L</tspan><tspan x="961.56" fill="#0033a0">L</tspan><tspan x="974.14" fill="#0033a0">A</tspan><tspan x="986.72" fill="#0033a0">Y</tspan><tspan x="999.30" fill="#0033a0">C</tspan><tspan x="1011.88" fill="#3669a5">E</tspan><tspan x="1024.45" fill="#0033a0">A</tspan><tspan x="1037.03" fill="#0033a0">H</tspan><tspan x="1049.61" fill="#7db0a0">V</tspan><tspan x="1062.19" fill="#3669a5">R</tspan><tspan x="1074.77" fill="#3669a5">E</tspan><tspan x="1087.35" fill="#0033a0">D</tspan><tspan x="1099.93" fill="#0033a0">P</tspan><tspan x="1112.51" fill="#0033a0">L</tspan><tspan x="1125.09" fill="#0033a0">I</tspan><tspan x="1137.67" fill="#6b9ea4">I</tspan><tspan x="1150.25" fill="#0033a0">P</tspan><tspan x="1162.83" fill="#0033a0">V</tspan><tspan x="1175.41" fill="#0033a0">P</tspan><tspan x="1187.99" fill="#4073a6">A</tspan><tspan x="1200.57" fill="#0033a0">S</tspan><tspan x="1213.15" fill="#0033a0">E</tspan><tspan x="1225.73" fill="#0033a0">N</tspan><tspan x="1238.31" fill="#0033a0">P</tspan><tspan x="1250.89" fill="#0033a0">F</tspan><tspan x="1263.47" fill="#0033a0">R</tspan><tspan x="1276.05" fill="#0033a0">E</tspan><tspan x="1288.62" fill="#0033a0">K</tspan><tspan x="1301.20" fill="#0033a0">K</tspan><tspan x="1313.78" fill="#0033a0">F</tspan><tspan x="1326.36" fill="#0033a0">F</tspan><tspan x="1338.94" fill="#0033a0">C</tspan><tspan x="1351.52" fill="#99cc99">T</tspan><tspan x="1364.10" fill="#0033a0">I</tspan><tspan x="1376.68" fill="#0033a0">L</tspan></text><text y="499.50"><tspan x="445.80" fill="#3669a5">M</tspan><tspan x="458.38" fill="#0033a0">K</tspan><tspan x="470.95" fill="#2e61a4">E</tspan><tspan x="483.53" fill="#3a6da5">G</tspan><tspan x="496.11" fill="#5c8fa8">M</tspan><tspan x="508.69" fill="#2e61a4">S</tspan><tspan x="521.27" fill="#6b9ea4">N</tspan><tspan x="533.85" fill="#0033a0">N</tspan><tspan x="546.43" fill="#0033a0">S</tspan><tspan x="559.01" fill="#0033a0">T</tspan><tspan x="571.59" fill="#6b9ea4">T</tspan><tspan x="584.17" fill="#0033a0">S</tspan><tspan x="596.75" fill="#0033a0">I</tspan><tspan x="609.33" fill="#0033a0">S</tspan><tspan x="621.91" fill="#0033a0">Q</tspan><tspan x="634.49" fill="#0033a0">A</tspan><tspan x="647.07" fill="#0033a0">R</tspan><tspan x="659.65" fill="#3669a5">K</tspan><tspan x="672.23" fill="#0033a0">A</tspan><tspan x="684.81" fill="#0033a0">V</tspan><tspan x="697.39" fill="#0033a0">E</tspan><tspan x="709.97" fill="#0033a0">Q</tspan><tspan x="722.55" fill="#0033a0">L</tspan><tspan x="735.13" fill="#0033a0">K</tspan><tspan x="747.70" fill="#0033a0">M</tspan><tspan x="760.28" fill="#0033a0">E</tspan><tspan x="772.86" fill="#0033a0">A</tspan><tspan x="785.44" fill="#0033a0">C</tspan><tspan x="798.02" fill="#0033a0">M</tspan><tspan x="810.60" fill="#0033a0">D</tspan><tspan x="823.18" fill="#0033a0">R</tspan><tspan x="835.76" fill="#174aa2">I</tspan><tspan x="848.34" fill="#0033a0">K</tspan><tspan x="860.92" fill="#0033a0">V</tspan><tspan x="873.50" fill="#0033a0">S</tspan><tspan x="886.08" fill="#4073a6">K</tspan><tspan x="898.66" fill="#0033a0">A</tspan><tspan x="911.24" fill="#0033a0">A</tspan><tspan x="923.82" fill="#3669a5">A</tspan><tspan x="936.40" fill="#0033a0">D</tspan><tspan x="948.98" fill="#0033a0">L</tspan><tspan x="961.56" fill="#0033a0">L</tspan><tspan x="974.14" fill="#0033a0">A</tspan><tspan x="986.72" fill="#0033a0">Y</tspan><tspan x="999.30" fill="#0033a0">C</tspan><tspan x="1011.88" fill="#3669a5">D</tspan><tspan x="1024.45" fill="#0033a0">A</tspan><tspan x="1037.03" fill="#0033a0">H</tspan><tspan x="1049.61" fill="#7db0a0">I</tspan><tspan x="1062.19" fill="#3669a5">R</tspan><tspan x="1074.77" fill="#3669a5">E</tspan><tspan x="1087.35" fill="#0033a0">D</tspan><tspan x="1099.93" fill="#0033a0">P</tspan><tspan x="1112.51" fill="#0033a0">L</tspan><tspan x="1125.09" fill="#0033a0">I</tspan><tspan x="1137.67" fill="#6b9ea4">I</tspan><tspan x="1150.25" fill="#0033a0">P</tspan><tspan x="1162.83" fill="#0033a0">V</tspan><tspan x="1175.41" fill="#0033a0">P</tspan><tspan x="1187.99" fill="#4073a6">A</tspan><tspan x="1200.57" fill="#0033a0">S</tspan><tspan x="1213.15" fill="#0033a0">E</tspan><tspan x="1225.73" fill="#0033a0">N</tspan><tspan x="1238.31" fill="#0033a0">P</tspan><tspan x="1250.89" fill="#0033a0">F</tspan><tspan x="1263.47" fill="#0033a0">R</tspan><tspan x="1276.05" fill="#0033a0">E</tspan><tspan x="1288.62" fill="#0033a0">K</tspan><tspan x="1301.20" fill="#0033a0">K</tspan><tspan x="1313.78" fill="#0033a0">F</tspan><tspan x="1326.36" fill="#0033a0">F</tspan><tspan x="1338.94" fill="#0033a0">C</tspan><tspan x="1351.52" fill="#99cc99">T</tspan><tspan x="1364.10" fill="#0033a0">I</tspan><tspan x="1376.68" fill="#0033a0">L</tspan></text><text y="520.15"><tspan x="445.80" fill="#3669a5">M</tspan><tspan x="458.38" fill="#0033a0">K</tspan><tspan x="470.95" fill="#2e61a4">E</tspan><tspan x="483.53" fill="#3a6da5">G</tspan><tspan x="496.11" fill="#5c8fa8">M</tspan><tspan x="508.69" fill="#2e61a4">S</tspan><tspan x="521.27" fill="#6b9ea4">N</tspan><tspan x="533.85" fill="#0033a0">N</tspan><tspan x="546.43" fill="#0033a0">S</tspan><tspan x="559.01" fill="#0033a0">T</tspan><tspan x="571.59" fill="#6b9ea4">T</tspan><tspan x="584.17" fill="#0033a0">S</tspan><tspan x="596.75" fill="#0033a0">I</tspan><tspan x="609.33" fill="#0033a0">S</tspan><tspan x="621.91" fill="#0033a0">Q</tspan><tspan x="634.49" fill="#0033a0">A</tspan><tspan x="647.07" fill="#0033a0">R</tspan><tspan x="659.65" fill="#3669a5">K</tspan><tspan x="672.23" fill="#0033a0">A</tspan><tspan x="684.81" fill="#0033a0">V</tspan><tspan x="697.39" fill="#0033a0">E</tspan><tspan x="709.97" fill="#0033a0">Q</tspan><tspan x="722.55" fill="#0033a0">L</tspan><tspan x="735.13" fill="#0033a0">K</tspan><tspan x="747.70" fill="#0033a0">M</tspan><tspan x="760.28" fill="#0033a0">E</tspan><tspan x="772.86" fill="#0033a0">A</tspan><tspan x="785.44" fill="#0033a0">C</tspan><tspan x="798.02" fill="#0033a0">M</tspan><tspan x="810.60" fill="#0033a0">D</tspan><tspan x="823.18" fill="#0033a0">R</tspan><tspan x="835.76" fill="#174aa2">I</tspan><tspan x="848.34" fill="#0033a0">K</tspan><tspan x="860.92" fill="#0033a0">V</tspan><tspan x="873.50" fill="#0033a0">S</tspan><tspan x="886.08" fill="#4073a6">K</tspan><tspan x="898.66" fill="#0033a0">A</tspan><tspan x="911.24" fill="#0033a0">A</tspan><tspan x="923.82" fill="#3669a5">A</tspan><tspan x="936.40" fill="#0033a0">D</tspan><tspan x="948.98" fill="#0033a0">L</tspan><tspan x="961.56" fill="#0033a0">L</tspan><tspan x="974.14" fill="#0033a0">A</tspan><tspan x="986.72" fill="#0033a0">Y</tspan><tspan x="999.30" fill="#0033a0">C</tspan><tspan x="1011.88" fill="#3669a5">D</tspan><tspan x="1024.45" fill="#0033a0">A</tspan><tspan x="1037.03" fill="#0033a0">H</tspan><tspan x="1049.61" fill="#7db0a0">I</tspan><tspan x="1062.19" fill="#3669a5">R</tspan><tspan x="1074.77" fill="#3669a5">E</tspan><tspan x="1087.35" fill="#0033a0">D</tspan><tspan x="1099.93" fill="#0033a0">P</tspan><tspan x="1112.51" fill="#0033a0">L</tspan><tspan x="1125.09" fill="#0033a0">I</tspan><tspan x="1137.67" fill="#6b9ea4">I</tspan><tspan x="1150.25" fill="#0033a0">P</tspan><tspan x="1162.83" fill="#0033a0">V</tspan><tspan x="1175.41" fill="#0033a0">P</tspan><tspan x="1187.99" fill="#4073a6">A</tspan><tspan x="1200.57" fill="#0033a0">S</tspan><tspan x="1213.15" fill="#0033a0">E</tspan><tspan x="1225.73" fill="#0033a0">N</tspan><tspan x="1238.31" fill="#0033a0">P</tspan><tspan x="1250.89" fill="#0033a0">F</tspan><tspan x="1263.47" fill="#0033a0">R</tspan><tspan x="1276.05" fill="#0033a0">E</tspan><tspan x="1288.62" fill="#0033a0">K</tspan><tspan x="1301.20" fill="#0033a0">K</tspan><tspan x="1313.78" fill="#0033a0">F</tspan><tspan x="1326.36" fill="#0033a0">F</tspan><tspan x="1338.94" fill="#0033a0">C</tspan><tspan x="1351.52" fill="#99cc99">T</tspan><tspan x="1364.10" fill="#0033a0">I</tspan><tspan x="1376.68" fill="#0033a0">L</tspan></text><text y="540.80"><tspan x="445.80" fill="#3669a5">M</tspan><tspan x="458.38" fill="#0033a0">K</tspan><tspan x="470.95" fill="#2e61a4">E</tspan><tspan x="483.53" fill="#3a6da5">G</tspan><tspan x="496.11" fill="#5c8fa8">M</tspan><tspan x="508.69" fill="#2e61a4">S</tspan><tspan x="521.27" fill="#6b9ea4">N</tspan><tspan x="533.85" fill="#0033a0">N</tspan><tspan x="546.43" fill="#0033a0">S</tspan><tspan x="559.01" fill="#0033a0">T</tspan><tspan x="571.59" fill="#6b9ea4">T</tspan><tspan x="584.17" fill="#0033a0">S</tspan><tspan x="596.75" fill="#0033a0">I</tspan><tspan x="609.33" fill="#0033a0">S</tspan><tspan x="621.91" fill="#0033a0">Q</tspan><tspan x="634.49" fill="#0033a0">A</tspan><tspan x="647.07" fill="#0033a0">R</tspan><tspan x="659.65" fill="#3669a5">K</tspan><tspan x="672.23" fill="#0033a0">A</tspan><tspan x="684.81" fill="#0033a0">V</tspan><tspan x="697.39" fill="#0033a0">E</tspan><tspan x="709.97" fill="#0033a0">Q</tspan><tspan x="722.55" fill="#0033a0">L</tspan><tspan x="735.13" fill="#0033a0">K</tspan><tspan x="747.70" fill="#0033a0">M</tspan><tspan x="760.28" fill="#0033a0">E</tspan><tspan x="772.86" fill="#0033a0">A</tspan><tspan x="785.44" fill="#0033a0">C</tspan><tspan x="798.02" fill="#0033a0">M</tspan><tspan x="810.60" fill="#0033a0">D</tspan><tspan x="823.18" fill="#0033a0">R</tspan><tspan x="835.76" fill="#174aa2">V</tspan><tspan x="848.34" fill="#0033a0">K</tspan><tspan x="860.92" fill="#0033a0">V</tspan><tspan x="873.50" fill="#0033a0">S</tspan><tspan x="886.08" fill="#4073a6">Q</tspan><tspan x="898.66" fill="#0033a0">A</tspan><tspan x="911.24" fill="#0033a0">A</tspan><tspan x="923.82" fill="#3669a5">A</tspan><tspan x="936.40" fill="#0033a0">D</tspan><tspan x="948.98" fill="#0033a0">L</tspan><tspan x="961.56" fill="#0033a0">L</tspan><tspan x="974.14" fill="#0033a0">A</tspan><tspan x="986.72" fill="#0033a0">Y</tspan><tspan x="999.30" fill="#0033a0">C</tspan><tspan x="1011.88" fill="#3669a5">E</tspan><tspan x="1024.45" fill="#0033a0">A</tspan><tspan x="1037.03" fill="#0033a0">H</tspan><tspan x="1049.61" fill="#7db0a0">I</tspan><tspan x="1062.19" fill="#3669a5">Q</tspan><tspan x="1074.77" fill="#3669a5">E</tspan><tspan x="1087.35" fill="#0033a0">D</tspan><tspan x="1099.93" fill="#0033a0">P</tspan><tspan x="1112.51" fill="#0033a0">L</tspan><tspan x="1125.09" fill="#0033a0">I</tspan><tspan x="1137.67" fill="#6b9ea4">I</tspan><tspan x="1150.25" fill="#0033a0">P</tspan><tspan x="1162.83" fill="#0033a0">V</tspan><tspan x="1175.41" fill="#0033a0">P</tspan><tspan x="1187.99" fill="#4073a6">V</tspan><tspan x="1200.57" fill="#0033a0">S</tspan><tspan x="1213.15" fill="#0033a0">E</tspan><tspan x="1225.73" fill="#0033a0">N</tspan><tspan x="1238.31" fill="#0033a0">P</tspan><tspan x="1250.89" fill="#0033a0">F</tspan><tspan x="1263.47" fill="#0033a0">R</tspan><tspan x="1276.05" fill="#0033a0">E</tspan><tspan x="1288.62" fill="#0033a0">K</tspan><tspan x="1301.20" fill="#0033a0">K</tspan><tspan x="1313.78" fill="#0033a0">F</tspan><tspan x="1326.36" fill="#0033a0">F</tspan><tspan x="1338.94" fill="#0033a0">C</tspan><tspan x="1351.52" fill="#99cc99">N</tspan><tspan x="1364.10" fill="#0033a0">I</tspan><tspan x="1376.68" fill="#0033a0">L</tspan></text><text y="561.45"><tspan x="445.80" fill="#3669a5">M</tspan><tspan x="458.38" fill="#0033a0">K</tspan><tspan x="470.95" fill="#2e61a4">E</tspan><tspan x="483.53" fill="#3a6da5">G</tspan><tspan x="496.11" fill="#5c8fa8">V</tspan><tspan x="508.69" fill="#2e61a4">S</tspan><tspan x="521.27" fill="#6b9ea4">N</tspan><tspan x="533.85" fill="#0033a0">N</tspan><tspan x="546.43" fill="#0033a0">S</tspan><tspan x="559.01" fill="#0033a0">T</tspan><tspan x="571.59" fill="#6b9ea4">T</tspan><tspan x="584.17" fill="#0033a0">S</tspan><tspan x="596.75" fill="#0033a0">I</tspan><tspan x="609.33" fill="#0033a0">S</tspan><tspan x="621.91" fill="#0033a0">Q</tspan><tspan x="634.49" fill="#0033a0">A</tspan><tspan x="647.07" fill="#0033a0">R</tspan><tspan x="659.65" fill="#3669a5">R</tspan><tspan x="672.23" fill="#0033a0">A</tspan><tspan x="684.81" fill="#0033a0">V</tspan><tspan x="697.39" fill="#0033a0">E</tspan><tspan x="709.97" fill="#0033a0">Q</tspan><tspan x="722.55" fill="#0033a0">L</tspan><tspan x="735.13" fill="#0033a0">K</tspan><tspan x="747.70" fill="#0033a0">M</tspan><tspan x="760.28" fill="#0033a0">E</tspan><tspan x="772.86" fill="#0033a0">A</tspan><tspan x="785.44" fill="#0033a0">C</tspan><tspan x="798.02" fill="#0033a0">M</tspan><tspan x="810.60" fill="#0033a0">D</tspan><tspan x="823.18" fill="#0033a0">R</tspan><tspan x="835.76" fill="#174aa2">V</tspan><tspan x="848.34" fill="#0033a0">K</tspan><tspan x="860.92" fill="#0033a0">V</tspan><tspan x="873.50" fill="#0033a0">S</tspan><tspan x="886.08" fill="#4073a6">Q</tspan><tspan x="898.66" fill="#0033a0">A</tspan><tspan x="911.24" fill="#0033a0">A</tspan><tspan x="923.82" fill="#3669a5">A</tspan><tspan x="936.40" fill="#0033a0">D</tspan><tspan x="948.98" fill="#0033a0">L</tspan><tspan x="961.56" fill="#0033a0">L</tspan><tspan x="974.14" fill="#0033a0">A</tspan><tspan x="986.72" fill="#0033a0">Y</tspan><tspan x="999.30" fill="#0033a0">C</tspan><tspan x="1011.88" fill="#3669a5">E</tspan><tspan x="1024.45" fill="#0033a0">A</tspan><tspan x="1037.03" fill="#0033a0">H</tspan><tspan x="1049.61" fill="#7db0a0">V</tspan><tspan x="1062.19" fill="#3669a5">R</tspan><tspan x="1074.77" fill="#3669a5">E</tspan><tspan x="1087.35" fill="#0033a0">D</tspan><tspan x="1099.93" fill="#0033a0">P</tspan><tspan x="1112.51" fill="#0033a0">L</tspan><tspan x="1125.09" fill="#0033a0">I</tspan><tspan x="1137.67" fill="#6b9ea4">I</tspan><tspan x="1150.25" fill="#0033a0">P</tspan><tspan x="1162.83" fill="#0033a0">V</tspan><tspan x="1175.41" fill="#0033a0">P</tspan><tspan x="1187.99" fill="#4073a6">A</tspan><tspan x="1200.57" fill="#0033a0">S</tspan><tspan x="1213.15" fill="#0033a0">E</tspan><tspan x="1225.73" fill="#0033a0">N</tspan><tspan x="1238.31" fill="#0033a0">P</tspan><tspan x="1250.89" fill="#0033a0">F</tspan><tspan x="1263.47" fill="#0033a0">R</tspan><tspan x="1276.05" fill="#0033a0">E</tspan><tspan x="1288.62" fill="#0033a0">K</tspan><tspan x="1301.20" fill="#0033a0">K</tspan><tspan x="1313.78" fill="#0033a0">F</tspan><tspan x="1326.36" fill="#0033a0">F</tspan><tspan x="1338.94" fill="#0033a0">C</tspan><tspan x="1351.52" fill="#99cc99">T</tspan><tspan x="1364.10" fill="#0033a0">I</tspan><tspan x="1376.68" fill="#0033a0">L</tspan></text><text y="582.10"><tspan x="445.80" fill="#3669a5">M</tspan><tspan x="458.38" fill="#0033a0">K</tspan><tspan x="470.95" fill="#2e61a4">D</tspan><tspan x="483.53" fill="#3a6da5">G</tspan><tspan x="496.11" fill="#5c8fa8">I</tspan><tspan x="508.69" fill="#2e61a4">A</tspan><tspan x="521.27" fill="#6b9ea4">N</tspan><tspan x="533.85" fill="#0033a0">N</tspan><tspan x="546.43" fill="#0033a0">S</tspan><tspan x="559.01" fill="#0033a0">T</tspan><tspan x="571.59" fill="#6b9ea4">A</tspan><tspan x="584.17" fill="#0033a0">S</tspan><tspan x="596.75" fill="#0033a0">I</tspan><tspan x="609.33" fill="#0033a0">S</tspan><tspan x="621.91" fill="#0033a0">Q</tspan><tspan x="634.49" fill="#0033a0">A</tspan><tspan x="647.07" fill="#0033a0">R</tspan><tspan x="659.65" fill="#3669a5">K</tspan><tspan x="672.23" fill="#0033a0">A</tspan><tspan x="684.81" fill="#0033a0">V</tspan><tspan x="697.39" fill="#0033a0">E</tspan><tspan x="709.97" fill="#0033a0">Q</tspan><tspan x="722.55" fill="#0033a0">L</tspan><tspan x="735.13" fill="#0033a0">K</tspan><tspan x="747.70" fill="#0033a0">M</tspan><tspan x="760.28" fill="#0033a0">E</tspan><tspan x="772.86" fill="#0033a0">A</tspan><tspan x="785.44" fill="#0033a0">C</tspan><tspan x="798.02" fill="#0033a0">M</tspan><tspan x="810.60" fill="#0033a0">D</tspan><tspan x="823.18" fill="#0033a0">R</tspan><tspan x="835.76" fill="#174aa2">I</tspan><tspan x="848.34" fill="#0033a0">K</tspan><tspan x="860.92" fill="#0033a0">V</tspan><tspan x="873.50" fill="#0033a0">S</tspan><tspan x="886.08" fill="#4073a6">K</tspan><tspan x="898.66" fill="#0033a0">A</tspan><tspan x="911.24" fill="#0033a0">A</tspan><tspan x="923.82" fill="#3669a5">A</tspan><tspan x="936.40" fill="#0033a0">D</tspan><tspan x="948.98" fill="#0033a0">L</tspan><tspan x="961.56" fill="#0033a0">M</tspan><tspan x="974.14" fill="#0033a0">A</tspan><tspan x="986.72" fill="#0033a0">Y</tspan><tspan x="999.30" fill="#0033a0">C</tspan><tspan x="1011.88" fill="#3669a5">D</tspan><tspan x="1024.45" fill="#0033a0">A</tspan><tspan x="1037.03" fill="#0033a0">H</tspan><tspan x="1049.61" fill="#7db0a0">I</tspan><tspan x="1062.19" fill="#3669a5">R</tspan><tspan x="1074.77" fill="#3669a5">D</tspan><tspan x="1087.35" fill="#0033a0">D</tspan><tspan x="1099.93" fill="#0033a0">P</tspan><tspan x="1112.51" fill="#0033a0">L</tspan><tspan x="1125.09" fill="#0033a0">I</tspan><tspan x="1137.67" fill="#6b9ea4">M</tspan><tspan x="1150.25" fill="#0033a0">P</tspan><tspan x="1162.83" fill="#0033a0">V</tspan><tspan x="1175.41" fill="#0033a0">P</tspan><tspan x="1187.99" fill="#4073a6">A</tspan><tspan x="1200.57" fill="#0033a0">S</tspan><tspan x="1213.15" fill="#0033a0">E</tspan><tspan x="1225.73" fill="#0033a0">N</tspan><tspan x="1238.31" fill="#0033a0">P</tspan><tspan x="1250.89" fill="#0033a0">F</tspan><tspan x="1263.47" fill="#0033a0">R</tspan><tspan x="1276.05" fill="#0033a0">E</tspan><tspan x="1288.62" fill="#0033a0">K</tspan><tspan x="1301.20" fill="#0033a0">K</tspan><tspan x="1313.78" fill="#0033a0">F</tspan><tspan x="1326.36" fill="#0033a0">F</tspan><tspan x="1338.94" fill="#0033a0">C</tspan><tspan x="1351.52" fill="#99cc99">S</tspan><tspan x="1364.10" fill="#0033a0">I</tspan><tspan x="1376.68" fill="#0033a0">L</tspan></text><text y="602.75"><tspan x="445.80" fill="#3669a5">M</tspan><tspan x="458.38" fill="#0033a0">K</tspan><tspan x="470.95" fill="#2e61a4">D</tspan><tspan x="483.53" fill="#3a6da5">G</tspan><tspan x="496.11" fill="#5c8fa8">M</tspan><tspan x="508.69" fill="#2e61a4">A</tspan><tspan x="521.27" fill="#6b9ea4">N</tspan><tspan x="533.85" fill="#0033a0">N</tspan><tspan x="546.43" fill="#0033a0">S</tspan><tspan x="559.01" fill="#0033a0">T</tspan><tspan x="571.59" fill="#6b9ea4">A</tspan><tspan x="584.17" fill="#0033a0">S</tspan><tspan x="596.75" fill="#0033a0">I</tspan><tspan x="609.33" fill="#0033a0">S</tspan><tspan x="621.91" fill="#0033a0">Q</tspan><tspan x="634.49" fill="#0033a0">A</tspan><tspan x="647.07" fill="#0033a0">R</tspan><tspan x="659.65" fill="#3669a5">K</tspan><tspan x="672.23" fill="#0033a0">A</tspan><tspan x="684.81" fill="#0033a0">V</tspan><tspan x="697.39" fill="#0033a0">E</tspan><tspan x="709.97" fill="#0033a0">Q</tspan><tspan x="722.55" fill="#0033a0">L</tspan><tspan x="735.13" fill="#0033a0">K</tspan><tspan x="747.70" fill="#0033a0">M</tspan><tspan x="760.28" fill="#0033a0">E</tspan><tspan x="772.86" fill="#0033a0">A</tspan><tspan x="785.44" fill="#0033a0">C</tspan><tspan x="798.02" fill="#0033a0">M</tspan><tspan x="810.60" fill="#0033a0">D</tspan><tspan x="823.18" fill="#0033a0">R</tspan><tspan x="835.76" fill="#174aa2">I</tspan><tspan x="848.34" fill="#0033a0">K</tspan><tspan x="860.92" fill="#0033a0">V</tspan><tspan x="873.50" fill="#0033a0">S</tspan><tspan x="886.08" fill="#4073a6">K</tspan><tspan x="898.66" fill="#0033a0">A</tspan><tspan x="911.24" fill="#0033a0">A</tspan><tspan x="923.82" fill="#3669a5">A</tspan><tspan x="936.40" fill="#0033a0">D</tspan><tspan x="948.98" fill="#0033a0">L</tspan><tspan x="961.56" fill="#0033a0">M</tspan><tspan x="974.14" fill="#0033a0">A</tspan><tspan x="986.72" fill="#0033a0">Y</tspan><tspan x="999.30" fill="#0033a0">C</tspan><tspan x="1011.88" fill="#3669a5">D</tspan><tspan x="1024.45" fill="#0033a0">A</tspan><tspan x="1037.03" fill="#0033a0">H</tspan><tspan x="1049.61" fill="#7db0a0">I</tspan><tspan x="1062.19" fill="#3669a5">R</tspan><tspan x="1074.77" fill="#3669a5">E</tspan><tspan x="1087.35" fill="#0033a0">D</tspan><tspan x="1099.93" fill="#0033a0">P</tspan><tspan x="1112.51" fill="#0033a0">L</tspan><tspan x="1125.09" fill="#0033a0">I</tspan><tspan x="1137.67" fill="#6b9ea4">V</tspan><tspan x="1150.25" fill="#0033a0">P</tspan><tspan x="1162.83" fill="#0033a0">V</tspan><tspan x="1175.41" fill="#0033a0">P</tspan><tspan x="1187.99" fill="#4073a6">A</tspan><tspan x="1200.57" fill="#0033a0">S</tspan><tspan x="1213.15" fill="#0033a0">E</tspan><tspan x="1225.73" fill="#0033a0">N</tspan><tspan x="1238.31" fill="#0033a0">P</tspan><tspan x="1250.89" fill="#0033a0">F</tspan><tspan x="1263.47" fill="#0033a0">R</tspan><tspan x="1276.05" fill="#0033a0">E</tspan><tspan x="1288.62" fill="#0033a0">K</tspan><tspan x="1301.20" fill="#0033a0">K</tspan><tspan x="1313.78" fill="#0033a0">F</tspan><tspan x="1326.36" fill="#0033a0">F</tspan><tspan x="1338.94" fill="#0033a0">C</tspan><tspan x="1351.52" fill="#99cc99">T</tspan><tspan x="1364.10" fill="#0033a0">I</tspan><tspan x="1376.68" fill="#0033a0">L</tspan></text><text y="623.40"><tspan x="445.80" fill="#3669a5">M</tspan><tspan x="458.38" fill="#0033a0">K</tspan><tspan x="470.95" fill="#2e61a4">D</tspan><tspan x="483.53" fill="#3a6da5">S</tspan><tspan x="496.11" fill="#5c8fa8">I</tspan><tspan x="508.69" fill="#2e61a4">A</tspan><tspan x="521.27" fill="#6b9ea4">N</tspan><tspan x="533.85" fill="#0033a0">N</tspan><tspan x="546.43" fill="#0033a0">S</tspan><tspan x="559.01" fill="#0033a0">T</tspan><tspan x="571.59" fill="#6b9ea4">A</tspan><tspan x="584.17" fill="#0033a0">S</tspan><tspan x="596.75" fill="#0033a0">I</tspan><tspan x="609.33" fill="#0033a0">S</tspan><tspan x="621.91" fill="#0033a0">Q</tspan><tspan x="634.49" fill="#0033a0">A</tspan><tspan x="647.07" fill="#0033a0">R</tspan><tspan x="659.65" fill="#3669a5">K</tspan><tspan x="672.23" fill="#0033a0">A</tspan><tspan x="684.81" fill="#0033a0">V</tspan><tspan x="697.39" fill="#0033a0">E</tspan><tspan x="709.97" fill="#0033a0">Q</tspan><tspan x="722.55" fill="#0033a0">L</tspan><tspan x="735.13" fill="#0033a0">K</tspan><tspan x="747.70" fill="#0033a0">M</tspan><tspan x="760.28" fill="#0033a0">E</tspan><tspan x="772.86" fill="#0033a0">A</tspan><tspan x="785.44" fill="#0033a0">C</tspan><tspan x="798.02" fill="#0033a0">M</tspan><tspan x="810.60" fill="#0033a0">D</tspan><tspan x="823.18" fill="#0033a0">R</tspan><tspan x="835.76" fill="#174aa2">I</tspan><tspan x="848.34" fill="#0033a0">K</tspan><tspan x="860.92" fill="#0033a0">V</tspan><tspan x="873.50" fill="#0033a0">S</tspan><tspan x="886.08" fill="#4073a6">K</tspan><tspan x="898.66" fill="#0033a0">A</tspan><tspan x="911.24" fill="#0033a0">A</tspan><tspan x="923.82" fill="#3669a5">A</tspan><tspan x="936.40" fill="#0033a0">D</tspan><tspan x="948.98" fill="#0033a0">L</tspan><tspan x="961.56" fill="#0033a0">M</tspan><tspan x="974.14" fill="#0033a0">A</tspan><tspan x="986.72" fill="#0033a0">Y</tspan><tspan x="999.30" fill="#0033a0">C</tspan><tspan x="1011.88" fill="#3669a5">D</tspan><tspan x="1024.45" fill="#0033a0">A</tspan><tspan x="1037.03" fill="#0033a0">H</tspan><tspan x="1049.61" fill="#7db0a0">T</tspan><tspan x="1062.19" fill="#3669a5">R</tspan><tspan x="1074.77" fill="#3669a5">E</tspan><tspan x="1087.35" fill="#0033a0">D</tspan><tspan x="1099.93" fill="#0033a0">P</tspan><tspan x="1112.51" fill="#0033a0">L</tspan><tspan x="1125.09" fill="#0033a0">I</tspan><tspan x="1137.67" fill="#6b9ea4">V</tspan><tspan x="1150.25" fill="#0033a0">P</tspan><tspan x="1162.83" fill="#0033a0">V</tspan><tspan x="1175.41" fill="#0033a0">P</tspan><tspan x="1187.99" fill="#4073a6">A</tspan><tspan x="1200.57" fill="#0033a0">S</tspan><tspan x="1213.15" fill="#0033a0">E</tspan><tspan x="1225.73" fill="#0033a0">N</tspan><tspan x="1238.31" fill="#0033a0">P</tspan><tspan x="1250.89" fill="#0033a0">F</tspan><tspan x="1263.47" fill="#0033a0">R</tspan><tspan x="1276.05" fill="#0033a0">E</tspan><tspan x="1288.62" fill="#0033a0">K</tspan><tspan x="1301.20" fill="#0033a0">K</tspan><tspan x="1313.78" fill="#0033a0">F</tspan><tspan x="1326.36" fill="#0033a0">F</tspan><tspan x="1338.94" fill="#0033a0">C</tspan><tspan x="1351.52" fill="#99cc99">T</tspan><tspan x="1364.10" fill="#0033a0">I</tspan><tspan x="1376.68" fill="#0033a0">L</tspan></text><text y="644.05"><tspan x="445.80" fill="#3669a5">M</tspan><tspan x="458.38" fill="#0033a0">K</tspan><tspan x="470.95" fill="#2e61a4">D</tspan><tspan x="483.53" fill="#3a6da5">S</tspan><tspan x="496.11" fill="#5c8fa8">I</tspan><tspan x="508.69" fill="#2e61a4">A</tspan><tspan x="521.27" fill="#6b9ea4">N</tspan><tspan x="533.85" fill="#0033a0">N</tspan><tspan x="546.43" fill="#0033a0">S</tspan><tspan x="559.01" fill="#0033a0">T</tspan><tspan x="571.59" fill="#6b9ea4">A</tspan><tspan x="584.17" fill="#0033a0">S</tspan><tspan x="596.75" fill="#0033a0">I</tspan><tspan x="609.33" fill="#0033a0">S</tspan><tspan x="621.91" fill="#0033a0">Q</tspan><tspan x="634.49" fill="#0033a0">A</tspan><tspan x="647.07" fill="#0033a0">R</tspan><tspan x="659.65" fill="#3669a5">K</tspan><tspan x="672.23" fill="#0033a0">A</tspan><tspan x="684.81" fill="#0033a0">V</tspan><tspan x="697.39" fill="#0033a0">E</tspan><tspan x="709.97" fill="#0033a0">Q</tspan><tspan x="722.55" fill="#0033a0">L</tspan><tspan x="735.13" fill="#0033a0">K</tspan><tspan x="747.70" fill="#0033a0">M</tspan><tspan x="760.28" fill="#0033a0">E</tspan><tspan x="772.86" fill="#0033a0">A</tspan><tspan x="785.44" fill="#0033a0">C</tspan><tspan x="798.02" fill="#0033a0">M</tspan><tspan x="810.60" fill="#0033a0">D</tspan><tspan x="823.18" fill="#0033a0">R</tspan><tspan x="835.76" fill="#174aa2">I</tspan><tspan x="848.34" fill="#0033a0">K</tspan><tspan x="860.92" fill="#0033a0">V</tspan><tspan x="873.50" fill="#0033a0">S</tspan><tspan x="886.08" fill="#4073a6">K</tspan><tspan x="898.66" fill="#0033a0">A</tspan><tspan x="911.24" fill="#0033a0">A</tspan><tspan x="923.82" fill="#3669a5">A</tspan><tspan x="936.40" fill="#0033a0">D</tspan><tspan x="948.98" fill="#0033a0">L</tspan><tspan x="961.56" fill="#0033a0">M</tspan><tspan x="974.14" fill="#0033a0">A</tspan><tspan x="986.72" fill="#0033a0">Y</tspan><tspan x="999.30" fill="#0033a0">C</tspan><tspan x="1011.88" fill="#3669a5">D</tspan><tspan x="1024.45" fill="#0033a0">A</tspan><tspan x="1037.03" fill="#0033a0">H</tspan><tspan x="1049.61" fill="#7db0a0">T</tspan><tspan x="1062.19" fill="#3669a5">R</tspan><tspan x="1074.77" fill="#3669a5">E</tspan><tspan x="1087.35" fill="#0033a0">D</tspan><tspan x="1099.93" fill="#0033a0">P</tspan><tspan x="1112.51" fill="#0033a0">L</tspan><tspan x="1125.09" fill="#0033a0">I</tspan><tspan x="1137.67" fill="#6b9ea4">V</tspan><tspan x="1150.25" fill="#0033a0">P</tspan><tspan x="1162.83" fill="#0033a0">V</tspan><tspan x="1175.41" fill="#0033a0">P</tspan><tspan x="1187.99" fill="#4073a6">A</tspan><tspan x="1200.57" fill="#0033a0">S</tspan><tspan x="1213.15" fill="#0033a0">E</tspan><tspan x="1225.73" fill="#0033a0">N</tspan><tspan x="1238.31" fill="#0033a0">P</tspan><tspan x="1250.89" fill="#0033a0">F</tspan><tspan x="1263.47" fill="#0033a0">R</tspan><tspan x="1276.05" fill="#0033a0">E</tspan><tspan x="1288.62" fill="#0033a0">K</tspan><tspan x="1301.20" fill="#0033a0">K</tspan><tspan x="1313.78" fill="#0033a0">F</tspan><tspan x="1326.36" fill="#0033a0">F</tspan><tspan x="1338.94" fill="#0033a0">C</tspan><tspan x="1351.52" fill="#99cc99">N</tspan><tspan x="1364.10" fill="#0033a0">I</tspan><tspan x="1376.68" fill="#0033a0">L</tspan></text><text y="664.70"><tspan x="445.80" fill="#3669a5">M</tspan><tspan x="458.38" fill="#0033a0">K</tspan><tspan x="470.95" fill="#2e61a4">E</tspan><tspan x="483.53" fill="#3a6da5">G</tspan><tspan x="496.11" fill="#5c8fa8">V</tspan><tspan x="508.69" fill="#2e61a4">S</tspan><tspan x="521.27" fill="#6b9ea4">S</tspan><tspan x="533.85" fill="#0033a0">N</tspan><tspan x="546.43" fill="#0033a0">S</tspan><tspan x="559.01" fill="#0033a0">T</tspan><tspan x="571.59" fill="#6b9ea4">T</tspan><tspan x="584.17" fill="#0033a0">S</tspan><tspan x="596.75" fill="#0033a0">X</tspan><tspan x="609.33" fill="#0033a0">X</tspan><tspan x="621.91" fill="#0033a0">X</tspan><tspan x="634.49" fill="#0033a0">X</tspan><tspan x="647.07" fill="#0033a0">X</tspan><tspan x="659.65" fill="#3669a5">X</tspan><tspan x="672.23" fill="#0033a0">X</tspan><tspan x="684.81" fill="#0033a0">X</tspan><tspan x="697.39" fill="#0033a0">X</tspan><tspan x="709.97" fill="#0033a0">X</tspan><tspan x="722.55" fill="#0033a0">X</tspan><tspan x="735.13" fill="#0033a0">X</tspan><tspan x="747.70" fill="#0033a0">X</tspan><tspan x="760.28" fill="#0033a0">X</tspan><tspan x="772.86" fill="#0033a0">X</tspan><tspan x="785.44" fill="#0033a0">X</tspan><tspan x="798.02" fill="#0033a0">X</tspan><tspan x="810.60" fill="#0033a0">X</tspan><tspan x="823.18" fill="#0033a0">X</tspan><tspan x="835.76" fill="#174aa2">X</tspan><tspan x="848.34" fill="#0033a0">X</tspan><tspan x="860.92" fill="#0033a0">V</tspan><tspan x="873.50" fill="#0033a0">S</tspan><tspan x="886.08" fill="#4073a6">Q</tspan><tspan x="898.66" fill="#0033a0">A</tspan><tspan x="911.24" fill="#0033a0">A</tspan><tspan x="923.82" fill="#3669a5">A</tspan><tspan x="936.40" fill="#0033a0">D</tspan><tspan x="948.98" fill="#0033a0">L</tspan><tspan x="961.56" fill="#0033a0">L</tspan><tspan x="974.14" fill="#0033a0">A</tspan><tspan x="986.72" fill="#0033a0">Y</tspan><tspan x="999.30" fill="#0033a0">C</tspan><tspan x="1011.88" fill="#3669a5">E</tspan><tspan x="1024.45" fill="#0033a0">A</tspan><tspan x="1037.03" fill="#0033a0">H</tspan><tspan x="1049.61" fill="#7db0a0">V</tspan><tspan x="1062.19" fill="#3669a5">R</tspan><tspan x="1074.77" fill="#3669a5">E</tspan><tspan x="1087.35" fill="#0033a0">D</tspan><tspan x="1099.93" fill="#0033a0">P</tspan><tspan x="1112.51" fill="#0033a0">L</tspan><tspan x="1125.09" fill="#0033a0">I</tspan><tspan x="1137.67" fill="#6b9ea4">I</tspan><tspan x="1150.25" fill="#0033a0">P</tspan><tspan x="1162.83" fill="#0033a0">V</tspan><tspan x="1175.41" fill="#0033a0">P</tspan><tspan x="1187.99" fill="#4073a6">A</tspan><tspan x="1200.57" fill="#0033a0">S</tspan><tspan x="1213.15" fill="#0033a0">E</tspan><tspan x="1225.73" fill="#0033a0">N</tspan><tspan x="1238.31" fill="#0033a0">P</tspan><tspan x="1250.89" fill="#0033a0">F</tspan><tspan x="1263.47" fill="#0033a0">R</tspan><tspan x="1276.05" fill="#0033a0">E</tspan><tspan x="1288.62" fill="#0033a0">K</tspan><tspan x="1301.20" fill="#0033a0">K</tspan><tspan x="1313.78" fill="#0033a0">F</tspan><tspan x="1326.36" fill="#0033a0">F</tspan><tspan x="1338.94" fill="#0033a0">C</tspan><tspan x="1351.52" fill="#99cc99">T</tspan><tspan x="1364.10" fill="#0033a0">I</tspan><tspan x="1376.68" fill="#0033a0">L</tspan></text></g></svg></body></html>
